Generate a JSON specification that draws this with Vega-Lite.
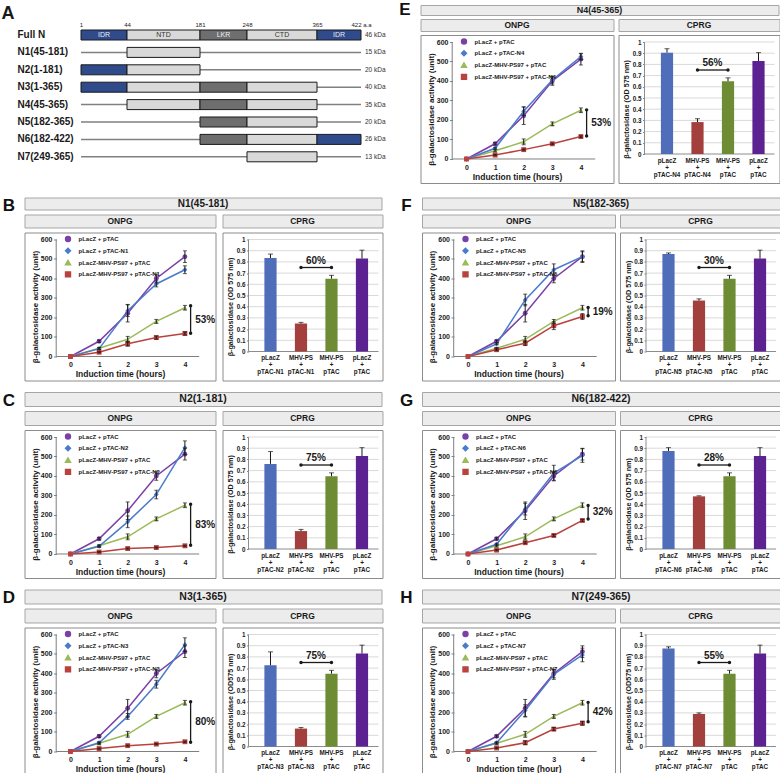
{
"$schema":"https://vega.github.io/schema/vega-lite/v6.json",
"padding":0,
"background":"white",
"config":{"view":{"stroke":null},"font":"Liberation Sans","axis":{"domain":false,"grid":false,"labelFlush":false,"labelOverlap":false,"labelSeparation":-50,"labelBound":false,"labelColor":"#1a1a1a","titleColor":"#1a1a1a","tickColor":"#666666","tickWidth":0.8,"labelFontWeight":"bold","titleFontWeight":"bold"},"legend":{"labelColor":"#1a1a1a"}},
"datasets":{
"rows":[{"r":"Full N","kda":"46 kDa"},{"r":"N1(45-181)","kda":"15 kDa"},{"r":"N2(1-181)","kda":"20 kDa"},{"r":"N3(1-365)","kda":"40 kDa"},{"r":"N4(45-365)","kda":"35 kDa"},{"r":"N5(182-365)","kda":"20 kDa"},{"r":"N6(182-422)","kda":"26 kDa"},{"r":"N7(249-365)","kda":"13 kDa"}],
"seg":[{"r":"Full N","d":"IDR","s":1,"e":44},{"r":"Full N","d":"NTD","s":44,"e":181},{"r":"Full N","d":"LKR","s":181,"e":248},{"r":"Full N","d":"CTD","s":248,"e":365},{"r":"Full N","d":"IDR","s":365,"e":422},
{"r":"N1(45-181)","d":"NTD","s":44,"e":181},
{"r":"N2(1-181)","d":"IDR","s":1,"e":44},{"r":"N2(1-181)","d":"NTD","s":44,"e":181},
{"r":"N3(1-365)","d":"IDR","s":1,"e":44},{"r":"N3(1-365)","d":"NTD","s":44,"e":181},{"r":"N3(1-365)","d":"LKR","s":181,"e":248},{"r":"N3(1-365)","d":"CTD","s":248,"e":365},
{"r":"N4(45-365)","d":"NTD","s":44,"e":181},{"r":"N4(45-365)","d":"LKR","s":181,"e":248},{"r":"N4(45-365)","d":"CTD","s":248,"e":365},
{"r":"N5(182-365)","d":"LKR","s":181,"e":248},{"r":"N5(182-365)","d":"CTD","s":248,"e":365},
{"r":"N6(182-422)","d":"LKR","s":181,"e":248},{"r":"N6(182-422)","d":"CTD","s":248,"e":365},{"r":"N6(182-422)","d":"IDR","s":365,"e":422},
{"r":"N7(249-365)","d":"CTD","s":248,"e":365}],
"L":[
{"p":"ctl","s":"pLacZ + pTAC","t":0,"v":0,"e":0},{"p":"ctl","s":"pLacZ + pTAC","t":1,"v":78,"e":6},{"p":"ctl","s":"pLacZ + pTAC","t":2,"v":222,"e":45},{"p":"ctl","s":"pLacZ + pTAC","t":3,"v":400,"e":22},{"p":"ctl","s":"pLacZ + pTAC","t":4,"v":512,"e":30},
{"p":"ctl","s":"pLacZ-MHV-PS97 + pTAC","t":0,"v":0,"e":0},{"p":"ctl","s":"pLacZ-MHV-PS97 + pTAC","t":1,"v":42,"e":5},{"p":"ctl","s":"pLacZ-MHV-PS97 + pTAC","t":2,"v":88,"e":15},{"p":"ctl","s":"pLacZ-MHV-PS97 + pTAC","t":3,"v":180,"e":10},{"p":"ctl","s":"pLacZ-MHV-PS97 + pTAC","t":4,"v":250,"e":12},
{"p":"N1","s":"pLacZ + pTAC-N1","t":0,"v":0,"e":0},{"p":"N1","s":"pLacZ + pTAC-N1","t":1,"v":40,"e":5},{"p":"N1","s":"pLacZ + pTAC-N1","t":2,"v":235,"e":30},{"p":"N1","s":"pLacZ + pTAC-N1","t":3,"v":372,"e":15},{"p":"N1","s":"pLacZ + pTAC-N1","t":4,"v":445,"e":20},
{"p":"N1","s":"pLacZ-MHV-PS97 + pTAC-N1","t":0,"v":0,"e":0},{"p":"N1","s":"pLacZ-MHV-PS97 + pTAC-N1","t":1,"v":22,"e":3},{"p":"N1","s":"pLacZ-MHV-PS97 + pTAC-N1","t":2,"v":65,"e":12},{"p":"N1","s":"pLacZ-MHV-PS97 + pTAC-N1","t":3,"v":97,"e":8},{"p":"N1","s":"pLacZ-MHV-PS97 + pTAC-N1","t":4,"v":118,"e":8},
{"p":"N2","s":"pLacZ + pTAC-N2","t":0,"v":0,"e":0},{"p":"N2","s":"pLacZ + pTAC-N2","t":1,"v":40,"e":5},{"p":"N2","s":"pLacZ + pTAC-N2","t":2,"v":165,"e":30},{"p":"N2","s":"pLacZ + pTAC-N2","t":3,"v":305,"e":22},{"p":"N2","s":"pLacZ + pTAC-N2","t":4,"v":545,"e":35},
{"p":"N2","s":"pLacZ-MHV-PS97 + pTAC-N2","t":0,"v":0,"e":0},{"p":"N2","s":"pLacZ-MHV-PS97 + pTAC-N2","t":1,"v":10,"e":3},{"p":"N2","s":"pLacZ-MHV-PS97 + pTAC-N2","t":2,"v":28,"e":3},{"p":"N2","s":"pLacZ-MHV-PS97 + pTAC-N2","t":3,"v":33,"e":3},{"p":"N2","s":"pLacZ-MHV-PS97 + pTAC-N2","t":4,"v":42,"e":3},
{"p":"N3","s":"pLacZ + pTAC-N3","t":0,"v":0,"e":0},{"p":"N3","s":"pLacZ + pTAC-N3","t":1,"v":45,"e":5},{"p":"N3","s":"pLacZ + pTAC-N3","t":2,"v":180,"e":15},{"p":"N3","s":"pLacZ + pTAC-N3","t":3,"v":345,"e":20},{"p":"N3","s":"pLacZ + pTAC-N3","t":4,"v":548,"e":35},
{"p":"N3","s":"pLacZ-MHV-PS97 + pTAC-N3","t":0,"v":0,"e":0},{"p":"N3","s":"pLacZ-MHV-PS97 + pTAC-N3","t":1,"v":15,"e":3},{"p":"N3","s":"pLacZ-MHV-PS97 + pTAC-N3","t":2,"v":30,"e":3},{"p":"N3","s":"pLacZ-MHV-PS97 + pTAC-N3","t":3,"v":38,"e":3},{"p":"N3","s":"pLacZ-MHV-PS97 + pTAC-N3","t":4,"v":50,"e":3},
{"p":"N4","s":"pLacZ + pTAC-N4","t":0,"v":0,"e":0},{"p":"N4","s":"pLacZ + pTAC-N4","t":1,"v":55,"e":5},{"p":"N4","s":"pLacZ + pTAC-N4","t":2,"v":245,"e":22},{"p":"N4","s":"pLacZ + pTAC-N4","t":3,"v":405,"e":20},{"p":"N4","s":"pLacZ + pTAC-N4","t":4,"v":525,"e":15},
{"p":"N4","s":"pLacZ-MHV-PS97 + pTAC-N4","t":0,"v":0,"e":0},{"p":"N4","s":"pLacZ-MHV-PS97 + pTAC-N4","t":1,"v":20,"e":3},{"p":"N4","s":"pLacZ-MHV-PS97 + pTAC-N4","t":2,"v":48,"e":3},{"p":"N4","s":"pLacZ-MHV-PS97 + pTAC-N4","t":3,"v":78,"e":4},{"p":"N4","s":"pLacZ-MHV-PS97 + pTAC-N4","t":4,"v":115,"e":4},
{"p":"N5","s":"pLacZ + pTAC-N5","t":0,"v":0,"e":0},{"p":"N5","s":"pLacZ + pTAC-N5","t":1,"v":65,"e":5},{"p":"N5","s":"pLacZ + pTAC-N5","t":2,"v":290,"e":30},{"p":"N5","s":"pLacZ + pTAC-N5","t":3,"v":445,"e":30},{"p":"N5","s":"pLacZ + pTAC-N5","t":4,"v":512,"e":25},
{"p":"N5","s":"pLacZ-MHV-PS97 + pTAC-N5","t":0,"v":0,"e":0},{"p":"N5","s":"pLacZ-MHV-PS97 + pTAC-N5","t":1,"v":35,"e":5},{"p":"N5","s":"pLacZ-MHV-PS97 + pTAC-N5","t":2,"v":68,"e":12},{"p":"N5","s":"pLacZ-MHV-PS97 + pTAC-N5","t":3,"v":158,"e":20},{"p":"N5","s":"pLacZ-MHV-PS97 + pTAC-N5","t":4,"v":205,"e":15},
{"p":"N6","s":"pLacZ + pTAC-N6","t":0,"v":0,"e":0},{"p":"N6","s":"pLacZ + pTAC-N6","t":1,"v":50,"e":5},{"p":"N6","s":"pLacZ + pTAC-N6","t":2,"v":230,"e":30},{"p":"N6","s":"pLacZ + pTAC-N6","t":3,"v":415,"e":40},{"p":"N6","s":"pLacZ + pTAC-N6","t":4,"v":505,"e":35},
{"p":"N6","s":"pLacZ-MHV-PS97 + pTAC-N6","t":0,"v":0,"e":0},{"p":"N6","s":"pLacZ-MHV-PS97 + pTAC-N6","t":1,"v":20,"e":3},{"p":"N6","s":"pLacZ-MHV-PS97 + pTAC-N6","t":2,"v":58,"e":5},{"p":"N6","s":"pLacZ-MHV-PS97 + pTAC-N6","t":3,"v":95,"e":5},{"p":"N6","s":"pLacZ-MHV-PS97 + pTAC-N6","t":4,"v":172,"e":5},
{"p":"N7","s":"pLacZ + pTAC-N7","t":0,"v":0,"e":0},{"p":"N7","s":"pLacZ + pTAC-N7","t":1,"v":45,"e":5},{"p":"N7","s":"pLacZ + pTAC-N7","t":2,"v":210,"e":30},{"p":"N7","s":"pLacZ + pTAC-N7","t":3,"v":395,"e":25},{"p":"N7","s":"pLacZ + pTAC-N7","t":4,"v":495,"e":35},
{"p":"N7","s":"pLacZ-MHV-PS97 + pTAC-N7","t":0,"v":0,"e":0},{"p":"N7","s":"pLacZ-MHV-PS97 + pTAC-N7","t":1,"v":18,"e":3},{"p":"N7","s":"pLacZ-MHV-PS97 + pTAC-N7","t":2,"v":45,"e":10},{"p":"N7","s":"pLacZ-MHV-PS97 + pTAC-N7","t":3,"v":115,"e":8},{"p":"N7","s":"pLacZ-MHV-PS97 + pTAC-N7","t":4,"v":145,"e":10}],
"LB":[{"p":"N1","top":260,"bot":119,"lab":"53%"},{"p":"N2","top":255,"bot":45,"lab":"83%"},{"p":"N3","top":255,"bot":47,"lab":"80%"},{"p":"N4","top":252,"bot":118,"lab":"53%"},{"p":"N5","top":251,"bot":209,"lab":"19%"},{"p":"N6","top":249,"bot":179,"lab":"32%"},{"p":"N7","top":252,"bot":153,"lab":"42%"}],
"BR":[{"p":"ctl","g":"MHV-PS + pTAC","v":0.65,"hi":0.68},{"p":"ctl","g":"pLacZ + pTAC","v":0.83,"hi":0.905},
{"p":"N1","g":"pLacZ + pTAC-N1","v":0.835,"hi":0.87},{"p":"N1","g":"MHV-PS + pTAC-N1","v":0.25,"hi":0.26},
{"p":"N2","g":"pLacZ + pTAC-N2","v":0.76,"hi":0.87},{"p":"N2","g":"MHV-PS + pTAC-N2","v":0.16,"hi":0.175},
{"p":"N3","g":"pLacZ + pTAC-N3","v":0.725,"hi":0.845},{"p":"N3","g":"MHV-PS + pTAC-N3","v":0.16,"hi":0.17},
{"p":"N4","g":"pLacZ + pTAC-N4","v":0.905,"hi":0.94},{"p":"N4","g":"MHV-PS + pTAC-N4","v":0.285,"hi":0.315},
{"p":"N5","g":"pLacZ + pTAC-N5","v":0.87,"hi":0.88},{"p":"N5","g":"MHV-PS + pTAC-N5","v":0.455,"hi":0.47},
{"p":"N6","g":"pLacZ + pTAC-N6","v":0.875,"hi":0.905},{"p":"N6","g":"MHV-PS + pTAC-N6","v":0.47,"hi":0.475},
{"p":"N7","g":"pLacZ + pTAC-N7","v":0.875,"hi":0.89},{"p":"N7","g":"MHV-PS + pTAC-N7","v":0.29,"hi":0.3}],
"BB":[{"p":"N1","g":"MHV-PS + pTAC-N1","y":0.75,"lab":"60%"},{"p":"N1","g":"MHV-PS + pTAC","y":0.75,"lab":""},
{"p":"N2","g":"MHV-PS + pTAC-N2","y":0.75,"lab":"75%"},{"p":"N2","g":"MHV-PS + pTAC","y":0.75,"lab":""},
{"p":"N3","g":"MHV-PS + pTAC-N3","y":0.75,"lab":"75%"},{"p":"N3","g":"MHV-PS + pTAC","y":0.75,"lab":""},
{"p":"N4","g":"MHV-PS + pTAC-N4","y":0.75,"lab":"56%"},{"p":"N4","g":"MHV-PS + pTAC","y":0.75,"lab":""},
{"p":"N5","g":"MHV-PS + pTAC-N5","y":0.75,"lab":"30%"},{"p":"N5","g":"MHV-PS + pTAC","y":0.75,"lab":""},
{"p":"N6","g":"MHV-PS + pTAC-N6","y":0.75,"lab":"28%"},{"p":"N6","g":"MHV-PS + pTAC","y":0.75,"lab":""},
{"p":"N7","g":"MHV-PS + pTAC-N7","y":0.75,"lab":"55%"},{"p":"N7","g":"MHV-PS + pTAC","y":0.75,"lab":""}],
"GR":[{"g":0},{"g":0.1},{"g":0.2},{"g":0.3},{"g":0.4},{"g":0.5},{"g":0.6},{"g":0.7},{"g":0.8},{"g":0.9},{"g":1}]
},
"spacing":9.5,
"resolve":{"scale":{"color":"independent","shape":"independent"},"legend":{"color":"independent","shape":"independent"}},
"vconcat":[
{"hconcat":[
{"width":390,"height":186,"view":{"stroke":null},
"layer":[
{"data":{"name":"rows"},"transform":[{"filter":"datum.r != 'Full N'"}],"mark":{"type":"rule","color":"#808080","strokeWidth":1.5},
"encoding":{"x":{"datum":1,"type":"quantitative","scale":{"domain":[1,44,181,248,365,422],"range":[81,127,200,247,317,361],"nice":false,"zero":false},"axis":{"orient":"top","values":[1,44,181,248,365,422],"offset":-27,"ticks":false,"tickSize":0,"labelPadding":1,"labelFontSize":6,"labelFontWeight":"normal","labelExpr":"datum.value == 422 ? '422 a.a' : datum.label","title":"A","titleX":1,"titleY":-10,"titleAlign":"left","titleBaseline":"alphabetic","titleFontSize":18,"titleAngle":0}},"x2":{"datum":422},
"y":{"field":"r","type":"nominal","scale":{"type":"band","domain":["Full N","N1(45-181)","N2(1-181)","N3(1-365)","N4(45-365)","N5(182-365)","N6(182-422)","N7(249-365)"],"range":[29,160.8],"paddingInner":0.425,"paddingOuter":0},"axis":{"orient":"left","offset":-17,"ticks":false,"tickSize":0,"labelAlign":"left","labelPadding":0,"labelFontSize":10,"labelLimit":200,"title":null}}}},
{"data":{"name":"seg"},"mark":{"type":"bar","stroke":"#1a1a1a","strokeWidth":1},
"encoding":{"x":{"field":"s","type":"quantitative","scale":{"domain":[1,44,181,248,365,422],"range":[81,127,200,247,317,361],"nice":false,"zero":false}},"x2":{"field":"e"},
"y":{"field":"r","type":"nominal","scale":{"type":"band","domain":["Full N","N1(45-181)","N2(1-181)","N3(1-365)","N4(45-365)","N5(182-365)","N6(182-422)","N7(249-365)"],"range":[29,160.8],"paddingInner":0.425,"paddingOuter":0}},
"color":{"field":"d","type":"nominal","scale":{"domain":["IDR","NTD","LKR","CTD"],"range":["#2f4b8c","#d9d9d9","#6e6e6e","#d9d9d9"]},"legend":null}}},
{"data":{"name":"seg"},"transform":[{"filter":"datum.r == 'Full N' && (datum.d == 'NTD' || datum.d == 'CTD')"},{"calculate":"(datum.s + datum.e) / 2","as":"m"}],"mark":{"type":"text","fontSize":7,"baseline":"middle","color":"#333333"},
"encoding":{"x":{"field":"m","type":"quantitative","scale":{"domain":[1,44,181,248,365,422],"range":[81,127,200,247,317,361],"nice":false,"zero":false}},
"y":{"field":"r","type":"nominal","scale":{"type":"band","domain":["Full N","N1(45-181)","N2(1-181)","N3(1-365)","N4(45-365)","N5(182-365)","N6(182-422)","N7(249-365)"],"range":[29,160.8],"paddingInner":0.425,"paddingOuter":0}},
"text":{"field":"d"}}},
{"data":{"name":"seg"},"transform":[{"filter":"datum.r == 'Full N' && (datum.d == 'IDR' || datum.d == 'LKR')"},{"calculate":"(datum.s + datum.e) / 2","as":"m"}],"mark":{"type":"text","fontSize":7,"baseline":"middle","color":"#e8ecf5"},
"encoding":{"x":{"field":"m","type":"quantitative","scale":{"domain":[1,44,181,248,365,422],"range":[81,127,200,247,317,361],"nice":false,"zero":false}},
"y":{"field":"r","type":"nominal","scale":{"type":"band","domain":["Full N","N1(45-181)","N2(1-181)","N3(1-365)","N4(45-365)","N5(182-365)","N6(182-422)","N7(249-365)"],"range":[29,160.8],"paddingInner":0.425,"paddingOuter":0}},
"text":{"field":"d"}}},
{"data":{"name":"rows"},"mark":{"type":"text","align":"left","baseline":"middle","dx":4,"fontSize":6.5,"color":"#333333"},
"encoding":{"x":{"datum":422,"type":"quantitative","scale":{"domain":[1,44,181,248,365,422],"range":[81,127,200,247,317,361],"nice":false,"zero":false}},
"y":{"field":"r","type":"nominal","scale":{"type":"band","domain":["Full N","N1(45-181)","N2(1-181)","N3(1-365)","N4(45-365)","N5(182-365)","N6(182-422)","N7(249-365)"],"range":[29,160.8],"paddingInner":0.425,"paddingOuter":0}},
"text":{"field":"kda"}}}
]},
{"hconcat":[
{"width":18,"height":17,"data":{"values":[{"t":"E"}]},"mark":{"type":"text","fontSize":17,"fontWeight":"bold","color":"#111111","baseline":"middle"},"encoding":{"text":{"field":"t"}}},
{"vconcat":[
{"width":358,"height":1,"data":{"values":[]},"mark":"point"},
{"width":358,"height":10,"view":{"fill":"#ececec","stroke":"#a6a6a6"},"data":{"values":[{"t":"N4(45-365)"}]},"mark":{"type":"text","fontSize":9,"fontWeight":"bold","color":"#1a1a1a","baseline":"middle"},"encoding":{"text":{"field":"t"}}},
{"hconcat":[
{"width":193,"height":12,"view":{"fill":"#ececec","stroke":"#a6a6a6"},"data":{"values":[{"t":"ONPG"}]},"mark":{"type":"text","fontSize":8.5,"fontWeight":"bold","color":"#1a1a1a","baseline":"middle"},"encoding":{"text":{"field":"t"}}},
{"width":161,"height":12,"view":{"fill":"#ececec","stroke":"#a6a6a6"},"data":{"values":[{"t":"CPRG"}]},"mark":{"type":"text","fontSize":8.5,"fontWeight":"bold","color":"#1a1a1a","baseline":"middle"},"encoding":{"text":{"field":"t"}}}
],"spacing":3},
{"hconcat":[
{"width":193,"height":148,"view":{"stroke":"#8c8c8c","fill":"white"},"resolve":{"axis":{"x":"independent","y":"independent"}},"layer":[
{"data":{"name":"LB"},"transform":[{"filter":"datum.p == 'N4'"}],"resolve":{"axis":{"x":"independent","y":"independent"}},"layer":[
{"mark":{"type":"rule","color":"#7f7f7f"},"encoding":{"x":{"datum":-0.5,"type":"quantitative","scale":{"domain":[-1.608,5.14],"nice":false,"zero":false},"axis":null},"y":{"datum":0,"type":"quantitative","scale":{"domain":[-123.1,635.9],"nice":false,"zero":false},"axis":null},"y2":{"datum":600}}},
{"mark":{"type":"rule","color":"#7f7f7f"},"encoding":{"x":{"datum":-0.5,"type":"quantitative","scale":{"domain":[-1.608,5.14],"nice":false,"zero":false},"axis":null},"x2":{"datum":4.5},"y":{"datum":0,"type":"quantitative","scale":{"domain":[-123.1,635.9],"nice":false,"zero":false},"axis":null}}}]},
{"data":{"name":"L"},"transform":[{"filter":"datum.p == 'ctl' || datum.p == 'N4'"},{"calculate":"datum.v - datum.e","as":"lo"},{"calculate":"datum.v + datum.e","as":"hi"}],"resolve":{"axis":{"x":"independent","y":"independent"}},"layer":[
{"mark":{"type":"line","strokeWidth":1.5},"encoding":{"x":{"field":"t","type":"quantitative","scale":{"domain":[-1.608,5.14],"nice":false,"zero":false},"axis":{"values":[0,1,2,3,4],"offset":-24,"ticks":false,"tickSize":0,"labelPadding":4,"labelFontSize":7,"labelOverlap":false,"title":"Induction time (hours)","titleFontSize":8.5,"titlePadding":2}},"y":{"field":"v","type":"quantitative","scale":{"domain":[-123.1,635.9],"nice":false,"zero":false},"axis":{"values":[0,100,200,300,400,500,600],"offset":-32,"tickSize":3,"labelPadding":1.5,"labelFontSize":7,"labelOverlap":false,"labelSeparation":-50,"title":"β-galactosidase activity (unit)","titleFontSize":8,"titlePadding":1}},"color":{"field":"s","type":"nominal","scale":{"domain":["pLacZ + pTAC","pLacZ + pTAC-N4","pLacZ-MHV-PS97 + pTAC","pLacZ-MHV-PS97 + pTAC-N4"],"range":["#7b40a8","#4a7bcc","#9bbb59","#b9423f"]}}}},
{"mark":{"type":"point","filled":true,"size":24,"opacity":1},"encoding":{"x":{"field":"t","type":"quantitative","scale":{"domain":[-1.608,5.14],"nice":false,"zero":false},"axis":null},"y":{"field":"v","type":"quantitative","scale":{"domain":[-123.1,635.9],"nice":false,"zero":false},"axis":null},"color":{"field":"s","type":"nominal","scale":{"domain":["pLacZ + pTAC","pLacZ + pTAC-N4","pLacZ-MHV-PS97 + pTAC","pLacZ-MHV-PS97 + pTAC-N4"],"range":["#7b40a8","#4a7bcc","#9bbb59","#b9423f"]},"legend":{"orient":"none","legendX":40,"legendY":3,"title":null,"padding":0,"rowPadding":0.8,"labelFontSize":6,"labelFontWeight":"bold","labelLimit":250,"labelOffset":7,"symbolSize":24}},"shape":{"field":"s","type":"nominal","scale":{"domain":["pLacZ + pTAC","pLacZ + pTAC-N4","pLacZ-MHV-PS97 + pTAC","pLacZ-MHV-PS97 + pTAC-N4"],"range":["circle","diamond","triangle-up","square"]},"legend":{"orient":"none","legendX":40,"legendY":3,"title":null,"padding":0,"rowPadding":0.8,"labelFontSize":6,"labelFontWeight":"bold","labelLimit":250,"labelOffset":7,"symbolSize":24}}}},
{"transform":[{"filter":"datum.e > 0"}],"mark":{"type":"rule","color":"#1a1a1a","strokeWidth":1},"encoding":{"x":{"field":"t","type":"quantitative","scale":{"domain":[-1.608,5.14],"nice":false,"zero":false},"axis":null},"y":{"field":"lo","type":"quantitative","scale":{"domain":[-123.1,635.9],"nice":false,"zero":false},"axis":null},"y2":{"field":"hi"}}},
{"transform":[{"filter":"datum.e > 0"}],"mark":{"type":"tick","color":"#1a1a1a","thickness":1,"size":4,"orient":"horizontal"},"encoding":{"x":{"field":"t","type":"quantitative","scale":{"domain":[-1.608,5.14],"nice":false,"zero":false},"axis":null},"y":{"field":"hi","type":"quantitative","scale":{"domain":[-123.1,635.9],"nice":false,"zero":false},"axis":null}}},
{"transform":[{"filter":"datum.e > 0"}],"mark":{"type":"tick","color":"#1a1a1a","thickness":1,"size":4,"orient":"horizontal"},"encoding":{"x":{"field":"t","type":"quantitative","scale":{"domain":[-1.608,5.14],"nice":false,"zero":false},"axis":null},"y":{"field":"lo","type":"quantitative","scale":{"domain":[-123.1,635.9],"nice":false,"zero":false},"axis":null}}}]},
{"data":{"name":"LB"},"transform":[{"filter":"datum.p == 'N4'"},{"calculate":"(datum.top + datum.bot) / 2","as":"mid"}],"resolve":{"axis":{"x":"independent","y":"independent"}},"layer":[
{"mark":{"type":"rule","color":"#1a1a1a","strokeWidth":1.3},"encoding":{"x":{"datum":4.2,"type":"quantitative","scale":{"domain":[-1.608,5.14],"nice":false,"zero":false},"axis":null},"y":{"field":"top","type":"quantitative","scale":{"domain":[-123.1,635.9],"nice":false,"zero":false},"axis":null},"y2":{"field":"bot"}}},
{"mark":{"type":"point","filled":true,"size":12,"opacity":1,"color":"#1a1a1a"},"encoding":{"x":{"datum":4.2,"type":"quantitative","scale":{"domain":[-1.608,5.14],"nice":false,"zero":false},"axis":null},"y":{"field":"top","type":"quantitative","scale":{"domain":[-123.1,635.9],"nice":false,"zero":false},"axis":null}}},
{"mark":{"type":"point","filled":true,"size":12,"opacity":1,"color":"#1a1a1a"},"encoding":{"x":{"datum":4.2,"type":"quantitative","scale":{"domain":[-1.608,5.14],"nice":false,"zero":false},"axis":null},"y":{"field":"bot","type":"quantitative","scale":{"domain":[-123.1,635.9],"nice":false,"zero":false},"axis":null}}},
{"mark":{"type":"text","align":"left","baseline":"middle","fontSize":10,"fontWeight":"bold","color":"#1a1a1a"},"encoding":{"x":{"datum":4.36,"type":"quantitative","scale":{"domain":[-1.608,5.14],"nice":false,"zero":false},"axis":null},"y":{"field":"mid","type":"quantitative","scale":{"domain":[-123.1,635.9],"nice":false,"zero":false},"axis":null},"text":{"field":"lab"}}}]}
]},
{"width":161,"height":148,"view":{"stroke":"#8c8c8c","fill":"white"},"resolve":{"scale":{"x":"independent"},"axis":{"x":"independent","y":"independent"}},"layer":[
{"data":{"name":"GR"},"resolve":{"axis":{"x":"independent","y":"independent"}},"layer":[
{"transform":[{"filter":"datum.g > 0"}],"mark":{"type":"rule","color":"#d9d9d9"},"encoding":{"x":{"datum":0,"type":"quantitative","scale":{"domain":[-0.2,1.0385],"nice":false,"zero":false},"axis":null},"x2":{"datum":1},"y":{"field":"g","type":"quantitative","scale":{"domain":[-0.2589,1.0625],"nice":false,"zero":false},"axis":null}}},
{"transform":[{"filter":"datum.g == 0"}],"mark":{"type":"rule","color":"#8c8c8c"},"encoding":{"x":{"datum":0,"type":"quantitative","scale":{"domain":[-0.2,1.0385],"nice":false,"zero":false},"axis":null},"x2":{"datum":1},"y":{"field":"g","type":"quantitative","scale":{"domain":[-0.2589,1.0625],"nice":false,"zero":false},"axis":null}}},
{"transform":[{"filter":"datum.g == 1"}],"mark":{"type":"rule","color":"#8c8c8c"},"encoding":{"x":{"datum":0,"type":"quantitative","scale":{"domain":[-0.2,1.0385],"nice":false,"zero":false},"axis":null},"y":{"datum":0,"type":"quantitative","scale":{"domain":[-0.2589,1.0625],"nice":false,"zero":false},"axis":null},"y2":{"datum":1}}}]},
{"resolve":{"axis":{"x":"independent","y":"independent"}},"layer":[
{"data":{"name":"BR"},"transform":[{"filter":"datum.p == 'ctl' || datum.p == 'N4'"}],"resolve":{"axis":{"x":"independent","y":"independent"}},"layer":[
{"mark":{"type":"bar"},"encoding":{"x":{"field":"g","type":"nominal","scale":{"domain":["pLacZ + pTAC-N4","MHV-PS + pTAC-N4","MHV-PS + pTAC","pLacZ + pTAC"],"paddingInner":0.6,"paddingOuter":0.939,"align":0.74},"axis":{"offset":-29,"ticks":false,"tickSize":0,"labelAngle":0,"labelOverlap":false,"labelExpr":"split(datum.label, ' ')","labelFontSize":6.3,"labelLineHeight":7,"labelPadding":3,"labelBaseline":"top","title":null}},"y":{"field":"v","type":"quantitative","scale":{"domain":[-0.2589,1.0625],"nice":false,"zero":false},"axis":{"values":[0,0.1,0.2,0.3,0.4,0.5,0.6,0.7,0.8,0.9,1],"format":"~g","offset":-26,"tickSize":2,"labelPadding":1.5,"labelFontSize":6.3,"labelOverlap":false,"labelSeparation":-50,"title":"β-galactosidase (OD 575 nm)","titleFontSize":7.2,"titlePadding":1.5}},"y2":{"datum":0},"color":{"field":"g","type":"nominal","scale":{"domain":["pLacZ + pTAC-N4","MHV-PS + pTAC-N4","MHV-PS + pTAC","pLacZ + pTAC"],"range":["#4f6db8","#a3403d","#6e8c33","#5c2291"]},"legend":null}}},
{"mark":{"type":"rule","color":"#1a1a1a"},"encoding":{"x":{"field":"g","type":"nominal","scale":{"domain":["pLacZ + pTAC-N4","MHV-PS + pTAC-N4","MHV-PS + pTAC","pLacZ + pTAC"],"paddingInner":0.6,"paddingOuter":0.939,"align":0.74},"axis":null},"y":{"field":"v","type":"quantitative","scale":{"domain":[-0.2589,1.0625],"nice":false,"zero":false},"axis":null},"y2":{"field":"hi"}}},
{"mark":{"type":"tick","color":"#1a1a1a","thickness":1,"size":5,"orient":"horizontal"},"encoding":{"x":{"field":"g","type":"nominal","scale":{"domain":["pLacZ + pTAC-N4","MHV-PS + pTAC-N4","MHV-PS + pTAC","pLacZ + pTAC"],"paddingInner":0.6,"paddingOuter":0.939,"align":0.74},"axis":null},"y":{"field":"hi","type":"quantitative","scale":{"domain":[-0.2589,1.0625],"nice":false,"zero":false},"axis":null}}}]},
{"data":{"name":"BB"},"transform":[{"filter":"datum.p == 'N4'"}],"resolve":{"axis":{"x":"independent","y":"independent"}},"layer":[
{"mark":{"type":"line","color":"#1a1a1a","strokeWidth":1.3},"encoding":{"x":{"field":"g","type":"nominal","scale":{"domain":["pLacZ + pTAC-N4","MHV-PS + pTAC-N4","MHV-PS + pTAC","pLacZ + pTAC"],"paddingInner":0.6,"paddingOuter":0.939,"align":0.74},"axis":null},"y":{"field":"y","type":"quantitative","scale":{"domain":[-0.2589,1.0625],"nice":false,"zero":false},"axis":null}}},
{"mark":{"type":"point","filled":true,"size":12,"opacity":1,"color":"#1a1a1a"},"encoding":{"x":{"field":"g","type":"nominal","scale":{"domain":["pLacZ + pTAC-N4","MHV-PS + pTAC-N4","MHV-PS + pTAC","pLacZ + pTAC"],"paddingInner":0.6,"paddingOuter":0.939,"align":0.74},"axis":null},"y":{"field":"y","type":"quantitative","scale":{"domain":[-0.2589,1.0625],"nice":false,"zero":false},"axis":null}}},
{"transform":[{"filter":"datum.lab != ''"}],"mark":{"type":"text","fontSize":10,"fontWeight":"bold","dx":15,"dy":-7,"baseline":"middle","color":"#1a1a1a"},"encoding":{"x":{"field":"g","type":"nominal","scale":{"domain":["pLacZ + pTAC-N4","MHV-PS + pTAC-N4","MHV-PS + pTAC","pLacZ + pTAC"],"paddingInner":0.6,"paddingOuter":0.939,"align":0.74},"axis":null},"y":{"field":"y","type":"quantitative","scale":{"domain":[-0.2589,1.0625],"nice":false,"zero":false},"axis":null},"text":{"field":"lab"}}}]}
]}
]}
],"spacing":3,"resolve":{"scale":{"color":"independent","shape":"independent"},"legend":{"color":"independent","shape":"independent"}}}
],"spacing":2,"resolve":{"scale":{"color":"independent","shape":"independent"},"legend":{"color":"independent","shape":"independent"}}}
],"spacing":5.5,"resolve":{"scale":{"color":"independent","shape":"independent"},"legend":{"color":"independent","shape":"independent"}}}
],"spacing":6,"resolve":{"scale":{"color":"independent","shape":"independent"},"legend":{"color":"independent","shape":"independent"}}},
{"hconcat":[
{"hconcat":[
{"width":18,"height":17,"data":{"values":[{"t":"B"}]},"mark":{"type":"text","fontSize":17,"fontWeight":"bold","color":"#111111","baseline":"middle"},"encoding":{"text":{"field":"t"}}},
{"vconcat":[
{"width":357,"height":12,"view":{"fill":"#ececec","stroke":"#a6a6a6"},"data":{"values":[{"t":"N1(45-181)"}]},"mark":{"type":"text","fontSize":10,"fontWeight":"bold","color":"#1a1a1a","baseline":"middle"},"encoding":{"text":{"field":"t"}}},
{"hconcat":[
{"width":191,"height":13,"view":{"fill":"#ececec","stroke":"#a6a6a6"},"data":{"values":[{"t":"ONPG"}]},"mark":{"type":"text","fontSize":8.5,"fontWeight":"bold","color":"#1a1a1a","baseline":"middle"},"encoding":{"text":{"field":"t"}}},
{"width":160,"height":13,"view":{"fill":"#ececec","stroke":"#a6a6a6"},"data":{"values":[{"t":"CPRG"}]},"mark":{"type":"text","fontSize":8.5,"fontWeight":"bold","color":"#1a1a1a","baseline":"middle"},"encoding":{"text":{"field":"t"}}}
],"spacing":5},
{"hconcat":[
{"width":191,"height":148,"view":{"stroke":"#8c8c8c","fill":"white"},"resolve":{"axis":{"x":"independent","y":"independent"}},"layer":[
{"data":{"name":"LB"},"transform":[{"filter":"datum.p == 'N1'"}],"resolve":{"axis":{"x":"independent","y":"independent"}},"layer":[
{"mark":{"type":"rule","color":"#7f7f7f"},"encoding":{"x":{"datum":-0.5,"type":"quantitative","scale":{"domain":[-1.608,5.07],"nice":false,"zero":false},"axis":null},"y":{"datum":0,"type":"quantitative","scale":{"domain":[-123.1,635.9],"nice":false,"zero":false},"axis":null},"y2":{"datum":600}}},
{"mark":{"type":"rule","color":"#7f7f7f"},"encoding":{"x":{"datum":-0.5,"type":"quantitative","scale":{"domain":[-1.608,5.07],"nice":false,"zero":false},"axis":null},"x2":{"datum":4.5},"y":{"datum":0,"type":"quantitative","scale":{"domain":[-123.1,635.9],"nice":false,"zero":false},"axis":null}}}]},
{"data":{"name":"L"},"transform":[{"filter":"datum.p == 'ctl' || datum.p == 'N1'"},{"calculate":"datum.v - datum.e","as":"lo"},{"calculate":"datum.v + datum.e","as":"hi"}],"resolve":{"axis":{"x":"independent","y":"independent"}},"layer":[
{"mark":{"type":"line","strokeWidth":1.5},"encoding":{"x":{"field":"t","type":"quantitative","scale":{"domain":[-1.608,5.07],"nice":false,"zero":false},"axis":{"values":[0,1,2,3,4],"offset":-24,"ticks":false,"tickSize":0,"labelPadding":4,"labelFontSize":7,"labelOverlap":false,"title":"Induction time (hours)","titleFontSize":8.5,"titlePadding":2}},"y":{"field":"v","type":"quantitative","scale":{"domain":[-123.1,635.9],"nice":false,"zero":false},"axis":{"values":[0,100,200,300,400,500,600],"offset":-32,"tickSize":3,"labelPadding":1.5,"labelFontSize":7,"labelOverlap":false,"labelSeparation":-50,"title":"β-galactosidase activity (unit)","titleFontSize":8,"titlePadding":1}},"color":{"field":"s","type":"nominal","scale":{"domain":["pLacZ + pTAC","pLacZ + pTAC-N1","pLacZ-MHV-PS97 + pTAC","pLacZ-MHV-PS97 + pTAC-N1"],"range":["#7b40a8","#4a7bcc","#9bbb59","#b9423f"]}}}},
{"mark":{"type":"point","filled":true,"size":24,"opacity":1},"encoding":{"x":{"field":"t","type":"quantitative","scale":{"domain":[-1.608,5.07],"nice":false,"zero":false},"axis":null},"y":{"field":"v","type":"quantitative","scale":{"domain":[-123.1,635.9],"nice":false,"zero":false},"axis":null},"color":{"field":"s","type":"nominal","scale":{"domain":["pLacZ + pTAC","pLacZ + pTAC-N1","pLacZ-MHV-PS97 + pTAC","pLacZ-MHV-PS97 + pTAC-N1"],"range":["#7b40a8","#4a7bcc","#9bbb59","#b9423f"]},"legend":{"orient":"none","legendX":40,"legendY":3,"title":null,"padding":0,"rowPadding":0.8,"labelFontSize":6,"labelFontWeight":"bold","labelLimit":250,"labelOffset":7,"symbolSize":24}},"shape":{"field":"s","type":"nominal","scale":{"domain":["pLacZ + pTAC","pLacZ + pTAC-N1","pLacZ-MHV-PS97 + pTAC","pLacZ-MHV-PS97 + pTAC-N1"],"range":["circle","diamond","triangle-up","square"]},"legend":{"orient":"none","legendX":40,"legendY":3,"title":null,"padding":0,"rowPadding":0.8,"labelFontSize":6,"labelFontWeight":"bold","labelLimit":250,"labelOffset":7,"symbolSize":24}}}},
{"transform":[{"filter":"datum.e > 0"}],"mark":{"type":"rule","color":"#1a1a1a","strokeWidth":1},"encoding":{"x":{"field":"t","type":"quantitative","scale":{"domain":[-1.608,5.07],"nice":false,"zero":false},"axis":null},"y":{"field":"lo","type":"quantitative","scale":{"domain":[-123.1,635.9],"nice":false,"zero":false},"axis":null},"y2":{"field":"hi"}}},
{"transform":[{"filter":"datum.e > 0"}],"mark":{"type":"tick","color":"#1a1a1a","thickness":1,"size":4,"orient":"horizontal"},"encoding":{"x":{"field":"t","type":"quantitative","scale":{"domain":[-1.608,5.07],"nice":false,"zero":false},"axis":null},"y":{"field":"hi","type":"quantitative","scale":{"domain":[-123.1,635.9],"nice":false,"zero":false},"axis":null}}},
{"transform":[{"filter":"datum.e > 0"}],"mark":{"type":"tick","color":"#1a1a1a","thickness":1,"size":4,"orient":"horizontal"},"encoding":{"x":{"field":"t","type":"quantitative","scale":{"domain":[-1.608,5.07],"nice":false,"zero":false},"axis":null},"y":{"field":"lo","type":"quantitative","scale":{"domain":[-123.1,635.9],"nice":false,"zero":false},"axis":null}}}]},
{"data":{"name":"LB"},"transform":[{"filter":"datum.p == 'N1'"},{"calculate":"(datum.top + datum.bot) / 2","as":"mid"}],"resolve":{"axis":{"x":"independent","y":"independent"}},"layer":[
{"mark":{"type":"rule","color":"#1a1a1a","strokeWidth":1.3},"encoding":{"x":{"datum":4.2,"type":"quantitative","scale":{"domain":[-1.608,5.07],"nice":false,"zero":false},"axis":null},"y":{"field":"top","type":"quantitative","scale":{"domain":[-123.1,635.9],"nice":false,"zero":false},"axis":null},"y2":{"field":"bot"}}},
{"mark":{"type":"point","filled":true,"size":12,"opacity":1,"color":"#1a1a1a"},"encoding":{"x":{"datum":4.2,"type":"quantitative","scale":{"domain":[-1.608,5.07],"nice":false,"zero":false},"axis":null},"y":{"field":"top","type":"quantitative","scale":{"domain":[-123.1,635.9],"nice":false,"zero":false},"axis":null}}},
{"mark":{"type":"point","filled":true,"size":12,"opacity":1,"color":"#1a1a1a"},"encoding":{"x":{"datum":4.2,"type":"quantitative","scale":{"domain":[-1.608,5.07],"nice":false,"zero":false},"axis":null},"y":{"field":"bot","type":"quantitative","scale":{"domain":[-123.1,635.9],"nice":false,"zero":false},"axis":null}}},
{"mark":{"type":"text","align":"left","baseline":"middle","fontSize":10,"fontWeight":"bold","color":"#1a1a1a"},"encoding":{"x":{"datum":4.36,"type":"quantitative","scale":{"domain":[-1.608,5.07],"nice":false,"zero":false},"axis":null},"y":{"field":"mid","type":"quantitative","scale":{"domain":[-123.1,635.9],"nice":false,"zero":false},"axis":null},"text":{"field":"lab"}}}]}
]},
{"width":160,"height":148,"view":{"stroke":"#8c8c8c","fill":"white"},"resolve":{"scale":{"x":"independent"},"axis":{"x":"independent","y":"independent"}},"layer":[
{"data":{"name":"GR"},"resolve":{"axis":{"x":"independent","y":"independent"}},"layer":[
{"transform":[{"filter":"datum.g > 0"}],"mark":{"type":"rule","color":"#d9d9d9"},"encoding":{"x":{"datum":0,"type":"quantitative","scale":{"domain":[-0.2,1.0308],"nice":false,"zero":false},"axis":null},"x2":{"datum":1},"y":{"field":"g","type":"quantitative","scale":{"domain":[-0.2589,1.0625],"nice":false,"zero":false},"axis":null}}},
{"transform":[{"filter":"datum.g == 0"}],"mark":{"type":"rule","color":"#8c8c8c"},"encoding":{"x":{"datum":0,"type":"quantitative","scale":{"domain":[-0.2,1.0308],"nice":false,"zero":false},"axis":null},"x2":{"datum":1},"y":{"field":"g","type":"quantitative","scale":{"domain":[-0.2589,1.0625],"nice":false,"zero":false},"axis":null}}},
{"transform":[{"filter":"datum.g == 1"}],"mark":{"type":"rule","color":"#8c8c8c"},"encoding":{"x":{"datum":0,"type":"quantitative","scale":{"domain":[-0.2,1.0308],"nice":false,"zero":false},"axis":null},"y":{"datum":0,"type":"quantitative","scale":{"domain":[-0.2589,1.0625],"nice":false,"zero":false},"axis":null},"y2":{"datum":1}}}]},
{"resolve":{"axis":{"x":"independent","y":"independent"}},"layer":[
{"data":{"name":"BR"},"transform":[{"filter":"datum.p == 'ctl' || datum.p == 'N1'"}],"resolve":{"axis":{"x":"independent","y":"independent"}},"layer":[
{"mark":{"type":"bar"},"encoding":{"x":{"field":"g","type":"nominal","scale":{"domain":["pLacZ + pTAC-N1","MHV-PS + pTAC-N1","MHV-PS + pTAC","pLacZ + pTAC"],"paddingInner":0.6,"paddingOuter":0.923,"align":0.744},"axis":{"offset":-29,"ticks":false,"tickSize":0,"labelAngle":0,"labelOverlap":false,"labelExpr":"split(datum.label, ' ')","labelFontSize":6.3,"labelLineHeight":7,"labelPadding":3,"labelBaseline":"top","title":null}},"y":{"field":"v","type":"quantitative","scale":{"domain":[-0.2589,1.0625],"nice":false,"zero":false},"axis":{"values":[0,0.1,0.2,0.3,0.4,0.5,0.6,0.7,0.8,0.9,1],"format":"~g","offset":-26,"tickSize":2,"labelPadding":1.5,"labelFontSize":6.3,"labelOverlap":false,"labelSeparation":-50,"title":"β-galactosidase (OD 575 nm)","titleFontSize":7.2,"titlePadding":1.5}},"y2":{"datum":0},"color":{"field":"g","type":"nominal","scale":{"domain":["pLacZ + pTAC-N1","MHV-PS + pTAC-N1","MHV-PS + pTAC","pLacZ + pTAC"],"range":["#4f6db8","#a3403d","#6e8c33","#5c2291"]},"legend":null}}},
{"mark":{"type":"rule","color":"#1a1a1a"},"encoding":{"x":{"field":"g","type":"nominal","scale":{"domain":["pLacZ + pTAC-N1","MHV-PS + pTAC-N1","MHV-PS + pTAC","pLacZ + pTAC"],"paddingInner":0.6,"paddingOuter":0.923,"align":0.744},"axis":null},"y":{"field":"v","type":"quantitative","scale":{"domain":[-0.2589,1.0625],"nice":false,"zero":false},"axis":null},"y2":{"field":"hi"}}},
{"mark":{"type":"tick","color":"#1a1a1a","thickness":1,"size":5,"orient":"horizontal"},"encoding":{"x":{"field":"g","type":"nominal","scale":{"domain":["pLacZ + pTAC-N1","MHV-PS + pTAC-N1","MHV-PS + pTAC","pLacZ + pTAC"],"paddingInner":0.6,"paddingOuter":0.923,"align":0.744},"axis":null},"y":{"field":"hi","type":"quantitative","scale":{"domain":[-0.2589,1.0625],"nice":false,"zero":false},"axis":null}}}]},
{"data":{"name":"BB"},"transform":[{"filter":"datum.p == 'N1'"}],"resolve":{"axis":{"x":"independent","y":"independent"}},"layer":[
{"mark":{"type":"line","color":"#1a1a1a","strokeWidth":1.3},"encoding":{"x":{"field":"g","type":"nominal","scale":{"domain":["pLacZ + pTAC-N1","MHV-PS + pTAC-N1","MHV-PS + pTAC","pLacZ + pTAC"],"paddingInner":0.6,"paddingOuter":0.923,"align":0.744},"axis":null},"y":{"field":"y","type":"quantitative","scale":{"domain":[-0.2589,1.0625],"nice":false,"zero":false},"axis":null}}},
{"mark":{"type":"point","filled":true,"size":12,"opacity":1,"color":"#1a1a1a"},"encoding":{"x":{"field":"g","type":"nominal","scale":{"domain":["pLacZ + pTAC-N1","MHV-PS + pTAC-N1","MHV-PS + pTAC","pLacZ + pTAC"],"paddingInner":0.6,"paddingOuter":0.923,"align":0.744},"axis":null},"y":{"field":"y","type":"quantitative","scale":{"domain":[-0.2589,1.0625],"nice":false,"zero":false},"axis":null}}},
{"transform":[{"filter":"datum.lab != ''"}],"mark":{"type":"text","fontSize":10,"fontWeight":"bold","dx":15,"dy":-7,"baseline":"middle","color":"#1a1a1a"},"encoding":{"x":{"field":"g","type":"nominal","scale":{"domain":["pLacZ + pTAC-N1","MHV-PS + pTAC-N1","MHV-PS + pTAC","pLacZ + pTAC"],"paddingInner":0.6,"paddingOuter":0.923,"align":0.744},"axis":null},"y":{"field":"y","type":"quantitative","scale":{"domain":[-0.2589,1.0625],"nice":false,"zero":false},"axis":null},"text":{"field":"lab"}}}]}
]}
]}
],"spacing":5,"resolve":{"scale":{"color":"independent","shape":"independent"},"legend":{"color":"independent","shape":"independent"}}}
],"spacing":3,"resolve":{"scale":{"color":"independent","shape":"independent"},"legend":{"color":"independent","shape":"independent"}}}
],"spacing":5.5,"resolve":{"scale":{"color":"independent","shape":"independent"},"legend":{"color":"independent","shape":"independent"}}},
{"hconcat":[
{"width":18,"height":17,"data":{"values":[{"t":"F"}]},"mark":{"type":"text","fontSize":17,"fontWeight":"bold","color":"#111111","baseline":"middle"},"encoding":{"text":{"field":"t"}}},
{"vconcat":[
{"width":358,"height":12,"view":{"fill":"#ececec","stroke":"#a6a6a6"},"data":{"values":[{"t":"N5(182-365)"}]},"mark":{"type":"text","fontSize":10,"fontWeight":"bold","color":"#1a1a1a","baseline":"middle"},"encoding":{"text":{"field":"t"}}},
{"hconcat":[
{"width":193,"height":13,"view":{"fill":"#ececec","stroke":"#a6a6a6"},"data":{"values":[{"t":"ONPG"}]},"mark":{"type":"text","fontSize":8.5,"fontWeight":"bold","color":"#1a1a1a","baseline":"middle"},"encoding":{"text":{"field":"t"}}},
{"width":161,"height":13,"view":{"fill":"#ececec","stroke":"#a6a6a6"},"data":{"values":[{"t":"CPRG"}]},"mark":{"type":"text","fontSize":8.5,"fontWeight":"bold","color":"#1a1a1a","baseline":"middle"},"encoding":{"text":{"field":"t"}}}
],"spacing":3},
{"hconcat":[
{"width":193,"height":148,"view":{"stroke":"#8c8c8c","fill":"white"},"resolve":{"axis":{"x":"independent","y":"independent"}},"layer":[
{"data":{"name":"LB"},"transform":[{"filter":"datum.p == 'N5'"}],"resolve":{"axis":{"x":"independent","y":"independent"}},"layer":[
{"mark":{"type":"rule","color":"#7f7f7f"},"encoding":{"x":{"datum":-0.5,"type":"quantitative","scale":{"domain":[-1.608,5.14],"nice":false,"zero":false},"axis":null},"y":{"datum":0,"type":"quantitative","scale":{"domain":[-123.1,635.9],"nice":false,"zero":false},"axis":null},"y2":{"datum":600}}},
{"mark":{"type":"rule","color":"#7f7f7f"},"encoding":{"x":{"datum":-0.5,"type":"quantitative","scale":{"domain":[-1.608,5.14],"nice":false,"zero":false},"axis":null},"x2":{"datum":4.5},"y":{"datum":0,"type":"quantitative","scale":{"domain":[-123.1,635.9],"nice":false,"zero":false},"axis":null}}}]},
{"data":{"name":"L"},"transform":[{"filter":"datum.p == 'ctl' || datum.p == 'N5'"},{"calculate":"datum.v - datum.e","as":"lo"},{"calculate":"datum.v + datum.e","as":"hi"}],"resolve":{"axis":{"x":"independent","y":"independent"}},"layer":[
{"mark":{"type":"line","strokeWidth":1.5},"encoding":{"x":{"field":"t","type":"quantitative","scale":{"domain":[-1.608,5.14],"nice":false,"zero":false},"axis":{"values":[0,1,2,3,4],"offset":-24,"ticks":false,"tickSize":0,"labelPadding":4,"labelFontSize":7,"labelOverlap":false,"title":"Induction time (hours)","titleFontSize":8.5,"titlePadding":2}},"y":{"field":"v","type":"quantitative","scale":{"domain":[-123.1,635.9],"nice":false,"zero":false},"axis":{"values":[0,100,200,300,400,500,600],"offset":-32,"tickSize":3,"labelPadding":1.5,"labelFontSize":7,"labelOverlap":false,"labelSeparation":-50,"title":"β-galactosidase activity (unit)","titleFontSize":8,"titlePadding":1}},"color":{"field":"s","type":"nominal","scale":{"domain":["pLacZ + pTAC","pLacZ + pTAC-N5","pLacZ-MHV-PS97 + pTAC","pLacZ-MHV-PS97 + pTAC-N5"],"range":["#7b40a8","#4a7bcc","#9bbb59","#b9423f"]}}}},
{"mark":{"type":"point","filled":true,"size":24,"opacity":1},"encoding":{"x":{"field":"t","type":"quantitative","scale":{"domain":[-1.608,5.14],"nice":false,"zero":false},"axis":null},"y":{"field":"v","type":"quantitative","scale":{"domain":[-123.1,635.9],"nice":false,"zero":false},"axis":null},"color":{"field":"s","type":"nominal","scale":{"domain":["pLacZ + pTAC","pLacZ + pTAC-N5","pLacZ-MHV-PS97 + pTAC","pLacZ-MHV-PS97 + pTAC-N5"],"range":["#7b40a8","#4a7bcc","#9bbb59","#b9423f"]},"legend":{"orient":"none","legendX":40,"legendY":3,"title":null,"padding":0,"rowPadding":0.8,"labelFontSize":6,"labelFontWeight":"bold","labelLimit":250,"labelOffset":7,"symbolSize":24}},"shape":{"field":"s","type":"nominal","scale":{"domain":["pLacZ + pTAC","pLacZ + pTAC-N5","pLacZ-MHV-PS97 + pTAC","pLacZ-MHV-PS97 + pTAC-N5"],"range":["circle","diamond","triangle-up","square"]},"legend":{"orient":"none","legendX":40,"legendY":3,"title":null,"padding":0,"rowPadding":0.8,"labelFontSize":6,"labelFontWeight":"bold","labelLimit":250,"labelOffset":7,"symbolSize":24}}}},
{"transform":[{"filter":"datum.e > 0"}],"mark":{"type":"rule","color":"#1a1a1a","strokeWidth":1},"encoding":{"x":{"field":"t","type":"quantitative","scale":{"domain":[-1.608,5.14],"nice":false,"zero":false},"axis":null},"y":{"field":"lo","type":"quantitative","scale":{"domain":[-123.1,635.9],"nice":false,"zero":false},"axis":null},"y2":{"field":"hi"}}},
{"transform":[{"filter":"datum.e > 0"}],"mark":{"type":"tick","color":"#1a1a1a","thickness":1,"size":4,"orient":"horizontal"},"encoding":{"x":{"field":"t","type":"quantitative","scale":{"domain":[-1.608,5.14],"nice":false,"zero":false},"axis":null},"y":{"field":"hi","type":"quantitative","scale":{"domain":[-123.1,635.9],"nice":false,"zero":false},"axis":null}}},
{"transform":[{"filter":"datum.e > 0"}],"mark":{"type":"tick","color":"#1a1a1a","thickness":1,"size":4,"orient":"horizontal"},"encoding":{"x":{"field":"t","type":"quantitative","scale":{"domain":[-1.608,5.14],"nice":false,"zero":false},"axis":null},"y":{"field":"lo","type":"quantitative","scale":{"domain":[-123.1,635.9],"nice":false,"zero":false},"axis":null}}}]},
{"data":{"name":"LB"},"transform":[{"filter":"datum.p == 'N5'"},{"calculate":"(datum.top + datum.bot) / 2","as":"mid"}],"resolve":{"axis":{"x":"independent","y":"independent"}},"layer":[
{"mark":{"type":"rule","color":"#1a1a1a","strokeWidth":1.3},"encoding":{"x":{"datum":4.2,"type":"quantitative","scale":{"domain":[-1.608,5.14],"nice":false,"zero":false},"axis":null},"y":{"field":"top","type":"quantitative","scale":{"domain":[-123.1,635.9],"nice":false,"zero":false},"axis":null},"y2":{"field":"bot"}}},
{"mark":{"type":"point","filled":true,"size":12,"opacity":1,"color":"#1a1a1a"},"encoding":{"x":{"datum":4.2,"type":"quantitative","scale":{"domain":[-1.608,5.14],"nice":false,"zero":false},"axis":null},"y":{"field":"top","type":"quantitative","scale":{"domain":[-123.1,635.9],"nice":false,"zero":false},"axis":null}}},
{"mark":{"type":"point","filled":true,"size":12,"opacity":1,"color":"#1a1a1a"},"encoding":{"x":{"datum":4.2,"type":"quantitative","scale":{"domain":[-1.608,5.14],"nice":false,"zero":false},"axis":null},"y":{"field":"bot","type":"quantitative","scale":{"domain":[-123.1,635.9],"nice":false,"zero":false},"axis":null}}},
{"mark":{"type":"text","align":"left","baseline":"middle","fontSize":10,"fontWeight":"bold","color":"#1a1a1a"},"encoding":{"x":{"datum":4.36,"type":"quantitative","scale":{"domain":[-1.608,5.14],"nice":false,"zero":false},"axis":null},"y":{"field":"mid","type":"quantitative","scale":{"domain":[-123.1,635.9],"nice":false,"zero":false},"axis":null},"text":{"field":"lab"}}}]}
]},
{"width":161,"height":148,"view":{"stroke":"#8c8c8c","fill":"white"},"resolve":{"scale":{"x":"independent"},"axis":{"x":"independent","y":"independent"}},"layer":[
{"data":{"name":"GR"},"resolve":{"axis":{"x":"independent","y":"independent"}},"layer":[
{"transform":[{"filter":"datum.g > 0"}],"mark":{"type":"rule","color":"#d9d9d9"},"encoding":{"x":{"datum":0,"type":"quantitative","scale":{"domain":[-0.2,1.0385],"nice":false,"zero":false},"axis":null},"x2":{"datum":1},"y":{"field":"g","type":"quantitative","scale":{"domain":[-0.2589,1.0625],"nice":false,"zero":false},"axis":null}}},
{"transform":[{"filter":"datum.g == 0"}],"mark":{"type":"rule","color":"#8c8c8c"},"encoding":{"x":{"datum":0,"type":"quantitative","scale":{"domain":[-0.2,1.0385],"nice":false,"zero":false},"axis":null},"x2":{"datum":1},"y":{"field":"g","type":"quantitative","scale":{"domain":[-0.2589,1.0625],"nice":false,"zero":false},"axis":null}}},
{"transform":[{"filter":"datum.g == 1"}],"mark":{"type":"rule","color":"#8c8c8c"},"encoding":{"x":{"datum":0,"type":"quantitative","scale":{"domain":[-0.2,1.0385],"nice":false,"zero":false},"axis":null},"y":{"datum":0,"type":"quantitative","scale":{"domain":[-0.2589,1.0625],"nice":false,"zero":false},"axis":null},"y2":{"datum":1}}}]},
{"resolve":{"axis":{"x":"independent","y":"independent"}},"layer":[
{"data":{"name":"BR"},"transform":[{"filter":"datum.p == 'ctl' || datum.p == 'N5'"}],"resolve":{"axis":{"x":"independent","y":"independent"}},"layer":[
{"mark":{"type":"bar"},"encoding":{"x":{"field":"g","type":"nominal","scale":{"domain":["pLacZ + pTAC-N5","MHV-PS + pTAC-N5","MHV-PS + pTAC","pLacZ + pTAC"],"paddingInner":0.6,"paddingOuter":0.939,"align":0.74},"axis":{"offset":-29,"ticks":false,"tickSize":0,"labelAngle":0,"labelOverlap":false,"labelExpr":"split(datum.label, ' ')","labelFontSize":6.3,"labelLineHeight":7,"labelPadding":3,"labelBaseline":"top","title":null}},"y":{"field":"v","type":"quantitative","scale":{"domain":[-0.2589,1.0625],"nice":false,"zero":false},"axis":{"values":[0,0.1,0.2,0.3,0.4,0.5,0.6,0.7,0.8,0.9,1],"format":"~g","offset":-26,"tickSize":2,"labelPadding":1.5,"labelFontSize":6.3,"labelOverlap":false,"labelSeparation":-50,"title":"β-galactodase (OD 575 nm)","titleFontSize":7.2,"titlePadding":1.5}},"y2":{"datum":0},"color":{"field":"g","type":"nominal","scale":{"domain":["pLacZ + pTAC-N5","MHV-PS + pTAC-N5","MHV-PS + pTAC","pLacZ + pTAC"],"range":["#4f6db8","#a3403d","#6e8c33","#5c2291"]},"legend":null}}},
{"mark":{"type":"rule","color":"#1a1a1a"},"encoding":{"x":{"field":"g","type":"nominal","scale":{"domain":["pLacZ + pTAC-N5","MHV-PS + pTAC-N5","MHV-PS + pTAC","pLacZ + pTAC"],"paddingInner":0.6,"paddingOuter":0.939,"align":0.74},"axis":null},"y":{"field":"v","type":"quantitative","scale":{"domain":[-0.2589,1.0625],"nice":false,"zero":false},"axis":null},"y2":{"field":"hi"}}},
{"mark":{"type":"tick","color":"#1a1a1a","thickness":1,"size":5,"orient":"horizontal"},"encoding":{"x":{"field":"g","type":"nominal","scale":{"domain":["pLacZ + pTAC-N5","MHV-PS + pTAC-N5","MHV-PS + pTAC","pLacZ + pTAC"],"paddingInner":0.6,"paddingOuter":0.939,"align":0.74},"axis":null},"y":{"field":"hi","type":"quantitative","scale":{"domain":[-0.2589,1.0625],"nice":false,"zero":false},"axis":null}}}]},
{"data":{"name":"BB"},"transform":[{"filter":"datum.p == 'N5'"}],"resolve":{"axis":{"x":"independent","y":"independent"}},"layer":[
{"mark":{"type":"line","color":"#1a1a1a","strokeWidth":1.3},"encoding":{"x":{"field":"g","type":"nominal","scale":{"domain":["pLacZ + pTAC-N5","MHV-PS + pTAC-N5","MHV-PS + pTAC","pLacZ + pTAC"],"paddingInner":0.6,"paddingOuter":0.939,"align":0.74},"axis":null},"y":{"field":"y","type":"quantitative","scale":{"domain":[-0.2589,1.0625],"nice":false,"zero":false},"axis":null}}},
{"mark":{"type":"point","filled":true,"size":12,"opacity":1,"color":"#1a1a1a"},"encoding":{"x":{"field":"g","type":"nominal","scale":{"domain":["pLacZ + pTAC-N5","MHV-PS + pTAC-N5","MHV-PS + pTAC","pLacZ + pTAC"],"paddingInner":0.6,"paddingOuter":0.939,"align":0.74},"axis":null},"y":{"field":"y","type":"quantitative","scale":{"domain":[-0.2589,1.0625],"nice":false,"zero":false},"axis":null}}},
{"transform":[{"filter":"datum.lab != ''"}],"mark":{"type":"text","fontSize":10,"fontWeight":"bold","dx":15,"dy":-7,"baseline":"middle","color":"#1a1a1a"},"encoding":{"x":{"field":"g","type":"nominal","scale":{"domain":["pLacZ + pTAC-N5","MHV-PS + pTAC-N5","MHV-PS + pTAC","pLacZ + pTAC"],"paddingInner":0.6,"paddingOuter":0.939,"align":0.74},"axis":null},"y":{"field":"y","type":"quantitative","scale":{"domain":[-0.2589,1.0625],"nice":false,"zero":false},"axis":null},"text":{"field":"lab"}}}]}
]}
]}
],"spacing":3,"resolve":{"scale":{"color":"independent","shape":"independent"},"legend":{"color":"independent","shape":"independent"}}}
],"spacing":3,"resolve":{"scale":{"color":"independent","shape":"independent"},"legend":{"color":"independent","shape":"independent"}}}
],"spacing":5.5,"resolve":{"scale":{"color":"independent","shape":"independent"},"legend":{"color":"independent","shape":"independent"}}}
],"spacing":14.5,"resolve":{"scale":{"color":"independent","shape":"independent"},"legend":{"color":"independent","shape":"independent"}}},
{"hconcat":[
{"hconcat":[
{"width":18,"height":17,"data":{"values":[{"t":"C"}]},"mark":{"type":"text","fontSize":17,"fontWeight":"bold","color":"#111111","baseline":"middle"},"encoding":{"text":{"field":"t"}}},
{"vconcat":[
{"width":357,"height":14,"view":{"fill":"#ececec","stroke":"#a6a6a6"},"data":{"values":[{"t":"N2(1-181)"}]},"mark":{"type":"text","fontSize":10.5,"fontWeight":"bold","color":"#1a1a1a","baseline":"middle"},"encoding":{"text":{"field":"t"}}},
{"hconcat":[
{"width":191,"height":14,"view":{"fill":"#ececec","stroke":"#a6a6a6"},"data":{"values":[{"t":"ONPG"}]},"mark":{"type":"text","fontSize":8.5,"fontWeight":"bold","color":"#1a1a1a","baseline":"middle"},"encoding":{"text":{"field":"t"}}},
{"width":160,"height":14,"view":{"fill":"#ececec","stroke":"#a6a6a6"},"data":{"values":[{"t":"CPRG"}]},"mark":{"type":"text","fontSize":8.5,"fontWeight":"bold","color":"#1a1a1a","baseline":"middle"},"encoding":{"text":{"field":"t"}}}
],"spacing":5},
{"hconcat":[
{"width":191,"height":148,"view":{"stroke":"#8c8c8c","fill":"white"},"resolve":{"axis":{"x":"independent","y":"independent"}},"layer":[
{"data":{"name":"LB"},"transform":[{"filter":"datum.p == 'N2'"}],"resolve":{"axis":{"x":"independent","y":"independent"}},"layer":[
{"mark":{"type":"rule","color":"#7f7f7f"},"encoding":{"x":{"datum":-0.5,"type":"quantitative","scale":{"domain":[-1.608,5.07],"nice":false,"zero":false},"axis":null},"y":{"datum":0,"type":"quantitative","scale":{"domain":[-123.1,635.9],"nice":false,"zero":false},"axis":null},"y2":{"datum":600}}},
{"mark":{"type":"rule","color":"#7f7f7f"},"encoding":{"x":{"datum":-0.5,"type":"quantitative","scale":{"domain":[-1.608,5.07],"nice":false,"zero":false},"axis":null},"x2":{"datum":4.5},"y":{"datum":0,"type":"quantitative","scale":{"domain":[-123.1,635.9],"nice":false,"zero":false},"axis":null}}}]},
{"data":{"name":"L"},"transform":[{"filter":"datum.p == 'ctl' || datum.p == 'N2'"},{"calculate":"datum.v - datum.e","as":"lo"},{"calculate":"datum.v + datum.e","as":"hi"}],"resolve":{"axis":{"x":"independent","y":"independent"}},"layer":[
{"mark":{"type":"line","strokeWidth":1.5},"encoding":{"x":{"field":"t","type":"quantitative","scale":{"domain":[-1.608,5.07],"nice":false,"zero":false},"axis":{"values":[0,1,2,3,4],"offset":-24,"ticks":false,"tickSize":0,"labelPadding":4,"labelFontSize":7,"labelOverlap":false,"title":"Induction time (hours)","titleFontSize":8.5,"titlePadding":2}},"y":{"field":"v","type":"quantitative","scale":{"domain":[-123.1,635.9],"nice":false,"zero":false},"axis":{"values":[0,100,200,300,400,500,600],"offset":-32,"tickSize":3,"labelPadding":1.5,"labelFontSize":7,"labelOverlap":false,"labelSeparation":-50,"title":"β-galactosidase activity (unit)","titleFontSize":8,"titlePadding":1}},"color":{"field":"s","type":"nominal","scale":{"domain":["pLacZ + pTAC","pLacZ + pTAC-N2","pLacZ-MHV-PS97 + pTAC","pLacZ-MHV-PS97 + pTAC-N2"],"range":["#7b40a8","#4a7bcc","#9bbb59","#b9423f"]}}}},
{"mark":{"type":"point","filled":true,"size":24,"opacity":1},"encoding":{"x":{"field":"t","type":"quantitative","scale":{"domain":[-1.608,5.07],"nice":false,"zero":false},"axis":null},"y":{"field":"v","type":"quantitative","scale":{"domain":[-123.1,635.9],"nice":false,"zero":false},"axis":null},"color":{"field":"s","type":"nominal","scale":{"domain":["pLacZ + pTAC","pLacZ + pTAC-N2","pLacZ-MHV-PS97 + pTAC","pLacZ-MHV-PS97 + pTAC-N2"],"range":["#7b40a8","#4a7bcc","#9bbb59","#b9423f"]},"legend":{"orient":"none","legendX":40,"legendY":3,"title":null,"padding":0,"rowPadding":0.8,"labelFontSize":6,"labelFontWeight":"bold","labelLimit":250,"labelOffset":7,"symbolSize":24}},"shape":{"field":"s","type":"nominal","scale":{"domain":["pLacZ + pTAC","pLacZ + pTAC-N2","pLacZ-MHV-PS97 + pTAC","pLacZ-MHV-PS97 + pTAC-N2"],"range":["circle","diamond","triangle-up","square"]},"legend":{"orient":"none","legendX":40,"legendY":3,"title":null,"padding":0,"rowPadding":0.8,"labelFontSize":6,"labelFontWeight":"bold","labelLimit":250,"labelOffset":7,"symbolSize":24}}}},
{"transform":[{"filter":"datum.e > 0"}],"mark":{"type":"rule","color":"#1a1a1a","strokeWidth":1},"encoding":{"x":{"field":"t","type":"quantitative","scale":{"domain":[-1.608,5.07],"nice":false,"zero":false},"axis":null},"y":{"field":"lo","type":"quantitative","scale":{"domain":[-123.1,635.9],"nice":false,"zero":false},"axis":null},"y2":{"field":"hi"}}},
{"transform":[{"filter":"datum.e > 0"}],"mark":{"type":"tick","color":"#1a1a1a","thickness":1,"size":4,"orient":"horizontal"},"encoding":{"x":{"field":"t","type":"quantitative","scale":{"domain":[-1.608,5.07],"nice":false,"zero":false},"axis":null},"y":{"field":"hi","type":"quantitative","scale":{"domain":[-123.1,635.9],"nice":false,"zero":false},"axis":null}}},
{"transform":[{"filter":"datum.e > 0"}],"mark":{"type":"tick","color":"#1a1a1a","thickness":1,"size":4,"orient":"horizontal"},"encoding":{"x":{"field":"t","type":"quantitative","scale":{"domain":[-1.608,5.07],"nice":false,"zero":false},"axis":null},"y":{"field":"lo","type":"quantitative","scale":{"domain":[-123.1,635.9],"nice":false,"zero":false},"axis":null}}}]},
{"data":{"name":"LB"},"transform":[{"filter":"datum.p == 'N2'"},{"calculate":"(datum.top + datum.bot) / 2","as":"mid"}],"resolve":{"axis":{"x":"independent","y":"independent"}},"layer":[
{"mark":{"type":"rule","color":"#1a1a1a","strokeWidth":1.3},"encoding":{"x":{"datum":4.2,"type":"quantitative","scale":{"domain":[-1.608,5.07],"nice":false,"zero":false},"axis":null},"y":{"field":"top","type":"quantitative","scale":{"domain":[-123.1,635.9],"nice":false,"zero":false},"axis":null},"y2":{"field":"bot"}}},
{"mark":{"type":"point","filled":true,"size":12,"opacity":1,"color":"#1a1a1a"},"encoding":{"x":{"datum":4.2,"type":"quantitative","scale":{"domain":[-1.608,5.07],"nice":false,"zero":false},"axis":null},"y":{"field":"top","type":"quantitative","scale":{"domain":[-123.1,635.9],"nice":false,"zero":false},"axis":null}}},
{"mark":{"type":"point","filled":true,"size":12,"opacity":1,"color":"#1a1a1a"},"encoding":{"x":{"datum":4.2,"type":"quantitative","scale":{"domain":[-1.608,5.07],"nice":false,"zero":false},"axis":null},"y":{"field":"bot","type":"quantitative","scale":{"domain":[-123.1,635.9],"nice":false,"zero":false},"axis":null}}},
{"mark":{"type":"text","align":"left","baseline":"middle","fontSize":10,"fontWeight":"bold","color":"#1a1a1a"},"encoding":{"x":{"datum":4.36,"type":"quantitative","scale":{"domain":[-1.608,5.07],"nice":false,"zero":false},"axis":null},"y":{"field":"mid","type":"quantitative","scale":{"domain":[-123.1,635.9],"nice":false,"zero":false},"axis":null},"text":{"field":"lab"}}}]}
]},
{"width":160,"height":148,"view":{"stroke":"#8c8c8c","fill":"white"},"resolve":{"scale":{"x":"independent"},"axis":{"x":"independent","y":"independent"}},"layer":[
{"data":{"name":"GR"},"resolve":{"axis":{"x":"independent","y":"independent"}},"layer":[
{"transform":[{"filter":"datum.g > 0"}],"mark":{"type":"rule","color":"#d9d9d9"},"encoding":{"x":{"datum":0,"type":"quantitative","scale":{"domain":[-0.2,1.0308],"nice":false,"zero":false},"axis":null},"x2":{"datum":1},"y":{"field":"g","type":"quantitative","scale":{"domain":[-0.2589,1.0625],"nice":false,"zero":false},"axis":null}}},
{"transform":[{"filter":"datum.g == 0"}],"mark":{"type":"rule","color":"#8c8c8c"},"encoding":{"x":{"datum":0,"type":"quantitative","scale":{"domain":[-0.2,1.0308],"nice":false,"zero":false},"axis":null},"x2":{"datum":1},"y":{"field":"g","type":"quantitative","scale":{"domain":[-0.2589,1.0625],"nice":false,"zero":false},"axis":null}}},
{"transform":[{"filter":"datum.g == 1"}],"mark":{"type":"rule","color":"#8c8c8c"},"encoding":{"x":{"datum":0,"type":"quantitative","scale":{"domain":[-0.2,1.0308],"nice":false,"zero":false},"axis":null},"y":{"datum":0,"type":"quantitative","scale":{"domain":[-0.2589,1.0625],"nice":false,"zero":false},"axis":null},"y2":{"datum":1}}}]},
{"resolve":{"axis":{"x":"independent","y":"independent"}},"layer":[
{"data":{"name":"BR"},"transform":[{"filter":"datum.p == 'ctl' || datum.p == 'N2'"}],"resolve":{"axis":{"x":"independent","y":"independent"}},"layer":[
{"mark":{"type":"bar"},"encoding":{"x":{"field":"g","type":"nominal","scale":{"domain":["pLacZ + pTAC-N2","MHV-PS + pTAC-N2","MHV-PS + pTAC","pLacZ + pTAC"],"paddingInner":0.6,"paddingOuter":0.923,"align":0.744},"axis":{"offset":-29,"ticks":false,"tickSize":0,"labelAngle":0,"labelOverlap":false,"labelExpr":"split(datum.label, ' ')","labelFontSize":6.3,"labelLineHeight":7,"labelPadding":3,"labelBaseline":"top","title":null}},"y":{"field":"v","type":"quantitative","scale":{"domain":[-0.2589,1.0625],"nice":false,"zero":false},"axis":{"values":[0,0.1,0.2,0.3,0.4,0.5,0.6,0.7,0.8,0.9,1],"format":"~g","offset":-26,"tickSize":2,"labelPadding":1.5,"labelFontSize":6.3,"labelOverlap":false,"labelSeparation":-50,"title":"β-galactosidase (OD 575 nm)","titleFontSize":7.2,"titlePadding":1.5}},"y2":{"datum":0},"color":{"field":"g","type":"nominal","scale":{"domain":["pLacZ + pTAC-N2","MHV-PS + pTAC-N2","MHV-PS + pTAC","pLacZ + pTAC"],"range":["#4f6db8","#a3403d","#6e8c33","#5c2291"]},"legend":null}}},
{"mark":{"type":"rule","color":"#1a1a1a"},"encoding":{"x":{"field":"g","type":"nominal","scale":{"domain":["pLacZ + pTAC-N2","MHV-PS + pTAC-N2","MHV-PS + pTAC","pLacZ + pTAC"],"paddingInner":0.6,"paddingOuter":0.923,"align":0.744},"axis":null},"y":{"field":"v","type":"quantitative","scale":{"domain":[-0.2589,1.0625],"nice":false,"zero":false},"axis":null},"y2":{"field":"hi"}}},
{"mark":{"type":"tick","color":"#1a1a1a","thickness":1,"size":5,"orient":"horizontal"},"encoding":{"x":{"field":"g","type":"nominal","scale":{"domain":["pLacZ + pTAC-N2","MHV-PS + pTAC-N2","MHV-PS + pTAC","pLacZ + pTAC"],"paddingInner":0.6,"paddingOuter":0.923,"align":0.744},"axis":null},"y":{"field":"hi","type":"quantitative","scale":{"domain":[-0.2589,1.0625],"nice":false,"zero":false},"axis":null}}}]},
{"data":{"name":"BB"},"transform":[{"filter":"datum.p == 'N2'"}],"resolve":{"axis":{"x":"independent","y":"independent"}},"layer":[
{"mark":{"type":"line","color":"#1a1a1a","strokeWidth":1.3},"encoding":{"x":{"field":"g","type":"nominal","scale":{"domain":["pLacZ + pTAC-N2","MHV-PS + pTAC-N2","MHV-PS + pTAC","pLacZ + pTAC"],"paddingInner":0.6,"paddingOuter":0.923,"align":0.744},"axis":null},"y":{"field":"y","type":"quantitative","scale":{"domain":[-0.2589,1.0625],"nice":false,"zero":false},"axis":null}}},
{"mark":{"type":"point","filled":true,"size":12,"opacity":1,"color":"#1a1a1a"},"encoding":{"x":{"field":"g","type":"nominal","scale":{"domain":["pLacZ + pTAC-N2","MHV-PS + pTAC-N2","MHV-PS + pTAC","pLacZ + pTAC"],"paddingInner":0.6,"paddingOuter":0.923,"align":0.744},"axis":null},"y":{"field":"y","type":"quantitative","scale":{"domain":[-0.2589,1.0625],"nice":false,"zero":false},"axis":null}}},
{"transform":[{"filter":"datum.lab != ''"}],"mark":{"type":"text","fontSize":10,"fontWeight":"bold","dx":15,"dy":-7,"baseline":"middle","color":"#1a1a1a"},"encoding":{"x":{"field":"g","type":"nominal","scale":{"domain":["pLacZ + pTAC-N2","MHV-PS + pTAC-N2","MHV-PS + pTAC","pLacZ + pTAC"],"paddingInner":0.6,"paddingOuter":0.923,"align":0.744},"axis":null},"y":{"field":"y","type":"quantitative","scale":{"domain":[-0.2589,1.0625],"nice":false,"zero":false},"axis":null},"text":{"field":"lab"}}}]}
]}
]}
],"spacing":5,"resolve":{"scale":{"color":"independent","shape":"independent"},"legend":{"color":"independent","shape":"independent"}}}
],"spacing":3,"resolve":{"scale":{"color":"independent","shape":"independent"},"legend":{"color":"independent","shape":"independent"}}}
],"spacing":5.5,"resolve":{"scale":{"color":"independent","shape":"independent"},"legend":{"color":"independent","shape":"independent"}}},
{"hconcat":[
{"width":18,"height":17,"data":{"values":[{"t":"G"}]},"mark":{"type":"text","fontSize":17,"fontWeight":"bold","color":"#111111","baseline":"middle"},"encoding":{"text":{"field":"t"}}},
{"vconcat":[
{"width":358,"height":14,"view":{"fill":"#ececec","stroke":"#a6a6a6"},"data":{"values":[{"t":"N6(182-422)"}]},"mark":{"type":"text","fontSize":10.5,"fontWeight":"bold","color":"#1a1a1a","baseline":"middle"},"encoding":{"text":{"field":"t"}}},
{"hconcat":[
{"width":193,"height":14,"view":{"fill":"#ececec","stroke":"#a6a6a6"},"data":{"values":[{"t":"ONPG"}]},"mark":{"type":"text","fontSize":8.5,"fontWeight":"bold","color":"#1a1a1a","baseline":"middle"},"encoding":{"text":{"field":"t"}}},
{"width":161,"height":14,"view":{"fill":"#ececec","stroke":"#a6a6a6"},"data":{"values":[{"t":"CPRG"}]},"mark":{"type":"text","fontSize":8.5,"fontWeight":"bold","color":"#1a1a1a","baseline":"middle"},"encoding":{"text":{"field":"t"}}}
],"spacing":3},
{"hconcat":[
{"width":193,"height":148,"view":{"stroke":"#8c8c8c","fill":"white"},"resolve":{"axis":{"x":"independent","y":"independent"}},"layer":[
{"data":{"name":"LB"},"transform":[{"filter":"datum.p == 'N6'"}],"resolve":{"axis":{"x":"independent","y":"independent"}},"layer":[
{"mark":{"type":"rule","color":"#7f7f7f"},"encoding":{"x":{"datum":-0.5,"type":"quantitative","scale":{"domain":[-1.608,5.14],"nice":false,"zero":false},"axis":null},"y":{"datum":0,"type":"quantitative","scale":{"domain":[-123.1,635.9],"nice":false,"zero":false},"axis":null},"y2":{"datum":600}}},
{"mark":{"type":"rule","color":"#7f7f7f"},"encoding":{"x":{"datum":-0.5,"type":"quantitative","scale":{"domain":[-1.608,5.14],"nice":false,"zero":false},"axis":null},"x2":{"datum":4.5},"y":{"datum":0,"type":"quantitative","scale":{"domain":[-123.1,635.9],"nice":false,"zero":false},"axis":null}}}]},
{"data":{"name":"L"},"transform":[{"filter":"datum.p == 'ctl' || datum.p == 'N6'"},{"calculate":"datum.v - datum.e","as":"lo"},{"calculate":"datum.v + datum.e","as":"hi"}],"resolve":{"axis":{"x":"independent","y":"independent"}},"layer":[
{"mark":{"type":"line","strokeWidth":1.5},"encoding":{"x":{"field":"t","type":"quantitative","scale":{"domain":[-1.608,5.14],"nice":false,"zero":false},"axis":{"values":[0,1,2,3,4],"offset":-24,"ticks":false,"tickSize":0,"labelPadding":4,"labelFontSize":7,"labelOverlap":false,"title":"Induction time (hours)","titleFontSize":8.5,"titlePadding":2}},"y":{"field":"v","type":"quantitative","scale":{"domain":[-123.1,635.9],"nice":false,"zero":false},"axis":{"values":[0,100,200,300,400,500,600],"offset":-32,"tickSize":3,"labelPadding":1.5,"labelFontSize":7,"labelOverlap":false,"labelSeparation":-50,"title":"β-galactosidase activity (unit)","titleFontSize":8,"titlePadding":1}},"color":{"field":"s","type":"nominal","scale":{"domain":["pLacZ + pTAC","pLacZ + pTAC-N6","pLacZ-MHV-PS97 + pTAC","pLacZ-MHV-PS97 + pTAC-N6"],"range":["#7b40a8","#4a7bcc","#9bbb59","#b9423f"]}}}},
{"mark":{"type":"point","filled":true,"size":24,"opacity":1},"encoding":{"x":{"field":"t","type":"quantitative","scale":{"domain":[-1.608,5.14],"nice":false,"zero":false},"axis":null},"y":{"field":"v","type":"quantitative","scale":{"domain":[-123.1,635.9],"nice":false,"zero":false},"axis":null},"color":{"field":"s","type":"nominal","scale":{"domain":["pLacZ + pTAC","pLacZ + pTAC-N6","pLacZ-MHV-PS97 + pTAC","pLacZ-MHV-PS97 + pTAC-N6"],"range":["#7b40a8","#4a7bcc","#9bbb59","#b9423f"]},"legend":{"orient":"none","legendX":40,"legendY":3,"title":null,"padding":0,"rowPadding":0.8,"labelFontSize":6,"labelFontWeight":"bold","labelLimit":250,"labelOffset":7,"symbolSize":24}},"shape":{"field":"s","type":"nominal","scale":{"domain":["pLacZ + pTAC","pLacZ + pTAC-N6","pLacZ-MHV-PS97 + pTAC","pLacZ-MHV-PS97 + pTAC-N6"],"range":["circle","diamond","triangle-up","square"]},"legend":{"orient":"none","legendX":40,"legendY":3,"title":null,"padding":0,"rowPadding":0.8,"labelFontSize":6,"labelFontWeight":"bold","labelLimit":250,"labelOffset":7,"symbolSize":24}}}},
{"transform":[{"filter":"datum.e > 0"}],"mark":{"type":"rule","color":"#1a1a1a","strokeWidth":1},"encoding":{"x":{"field":"t","type":"quantitative","scale":{"domain":[-1.608,5.14],"nice":false,"zero":false},"axis":null},"y":{"field":"lo","type":"quantitative","scale":{"domain":[-123.1,635.9],"nice":false,"zero":false},"axis":null},"y2":{"field":"hi"}}},
{"transform":[{"filter":"datum.e > 0"}],"mark":{"type":"tick","color":"#1a1a1a","thickness":1,"size":4,"orient":"horizontal"},"encoding":{"x":{"field":"t","type":"quantitative","scale":{"domain":[-1.608,5.14],"nice":false,"zero":false},"axis":null},"y":{"field":"hi","type":"quantitative","scale":{"domain":[-123.1,635.9],"nice":false,"zero":false},"axis":null}}},
{"transform":[{"filter":"datum.e > 0"}],"mark":{"type":"tick","color":"#1a1a1a","thickness":1,"size":4,"orient":"horizontal"},"encoding":{"x":{"field":"t","type":"quantitative","scale":{"domain":[-1.608,5.14],"nice":false,"zero":false},"axis":null},"y":{"field":"lo","type":"quantitative","scale":{"domain":[-123.1,635.9],"nice":false,"zero":false},"axis":null}}}]},
{"data":{"name":"LB"},"transform":[{"filter":"datum.p == 'N6'"},{"calculate":"(datum.top + datum.bot) / 2","as":"mid"}],"resolve":{"axis":{"x":"independent","y":"independent"}},"layer":[
{"mark":{"type":"rule","color":"#1a1a1a","strokeWidth":1.3},"encoding":{"x":{"datum":4.2,"type":"quantitative","scale":{"domain":[-1.608,5.14],"nice":false,"zero":false},"axis":null},"y":{"field":"top","type":"quantitative","scale":{"domain":[-123.1,635.9],"nice":false,"zero":false},"axis":null},"y2":{"field":"bot"}}},
{"mark":{"type":"point","filled":true,"size":12,"opacity":1,"color":"#1a1a1a"},"encoding":{"x":{"datum":4.2,"type":"quantitative","scale":{"domain":[-1.608,5.14],"nice":false,"zero":false},"axis":null},"y":{"field":"top","type":"quantitative","scale":{"domain":[-123.1,635.9],"nice":false,"zero":false},"axis":null}}},
{"mark":{"type":"point","filled":true,"size":12,"opacity":1,"color":"#1a1a1a"},"encoding":{"x":{"datum":4.2,"type":"quantitative","scale":{"domain":[-1.608,5.14],"nice":false,"zero":false},"axis":null},"y":{"field":"bot","type":"quantitative","scale":{"domain":[-123.1,635.9],"nice":false,"zero":false},"axis":null}}},
{"mark":{"type":"text","align":"left","baseline":"middle","fontSize":10,"fontWeight":"bold","color":"#1a1a1a"},"encoding":{"x":{"datum":4.36,"type":"quantitative","scale":{"domain":[-1.608,5.14],"nice":false,"zero":false},"axis":null},"y":{"field":"mid","type":"quantitative","scale":{"domain":[-123.1,635.9],"nice":false,"zero":false},"axis":null},"text":{"field":"lab"}}}]}
]},
{"width":161,"height":148,"view":{"stroke":"#8c8c8c","fill":"white"},"resolve":{"scale":{"x":"independent"},"axis":{"x":"independent","y":"independent"}},"layer":[
{"data":{"name":"GR"},"resolve":{"axis":{"x":"independent","y":"independent"}},"layer":[
{"transform":[{"filter":"datum.g > 0"}],"mark":{"type":"rule","color":"#d9d9d9"},"encoding":{"x":{"datum":0,"type":"quantitative","scale":{"domain":[-0.2,1.0385],"nice":false,"zero":false},"axis":null},"x2":{"datum":1},"y":{"field":"g","type":"quantitative","scale":{"domain":[-0.2589,1.0625],"nice":false,"zero":false},"axis":null}}},
{"transform":[{"filter":"datum.g == 0"}],"mark":{"type":"rule","color":"#8c8c8c"},"encoding":{"x":{"datum":0,"type":"quantitative","scale":{"domain":[-0.2,1.0385],"nice":false,"zero":false},"axis":null},"x2":{"datum":1},"y":{"field":"g","type":"quantitative","scale":{"domain":[-0.2589,1.0625],"nice":false,"zero":false},"axis":null}}},
{"transform":[{"filter":"datum.g == 1"}],"mark":{"type":"rule","color":"#8c8c8c"},"encoding":{"x":{"datum":0,"type":"quantitative","scale":{"domain":[-0.2,1.0385],"nice":false,"zero":false},"axis":null},"y":{"datum":0,"type":"quantitative","scale":{"domain":[-0.2589,1.0625],"nice":false,"zero":false},"axis":null},"y2":{"datum":1}}}]},
{"resolve":{"axis":{"x":"independent","y":"independent"}},"layer":[
{"data":{"name":"BR"},"transform":[{"filter":"datum.p == 'ctl' || datum.p == 'N6'"}],"resolve":{"axis":{"x":"independent","y":"independent"}},"layer":[
{"mark":{"type":"bar"},"encoding":{"x":{"field":"g","type":"nominal","scale":{"domain":["pLacZ + pTAC-N6","MHV-PS + pTAC-N6","MHV-PS + pTAC","pLacZ + pTAC"],"paddingInner":0.6,"paddingOuter":0.939,"align":0.74},"axis":{"offset":-29,"ticks":false,"tickSize":0,"labelAngle":0,"labelOverlap":false,"labelExpr":"split(datum.label, ' ')","labelFontSize":6.3,"labelLineHeight":7,"labelPadding":3,"labelBaseline":"top","title":null}},"y":{"field":"v","type":"quantitative","scale":{"domain":[-0.2589,1.0625],"nice":false,"zero":false},"axis":{"values":[0,0.1,0.2,0.3,0.4,0.5,0.6,0.7,0.8,0.9,1],"format":"~g","offset":-26,"tickSize":2,"labelPadding":1.5,"labelFontSize":6.3,"labelOverlap":false,"labelSeparation":-50,"title":"β-galactodase (OD 575 nm)","titleFontSize":7.2,"titlePadding":1.5}},"y2":{"datum":0},"color":{"field":"g","type":"nominal","scale":{"domain":["pLacZ + pTAC-N6","MHV-PS + pTAC-N6","MHV-PS + pTAC","pLacZ + pTAC"],"range":["#4f6db8","#a3403d","#6e8c33","#5c2291"]},"legend":null}}},
{"mark":{"type":"rule","color":"#1a1a1a"},"encoding":{"x":{"field":"g","type":"nominal","scale":{"domain":["pLacZ + pTAC-N6","MHV-PS + pTAC-N6","MHV-PS + pTAC","pLacZ + pTAC"],"paddingInner":0.6,"paddingOuter":0.939,"align":0.74},"axis":null},"y":{"field":"v","type":"quantitative","scale":{"domain":[-0.2589,1.0625],"nice":false,"zero":false},"axis":null},"y2":{"field":"hi"}}},
{"mark":{"type":"tick","color":"#1a1a1a","thickness":1,"size":5,"orient":"horizontal"},"encoding":{"x":{"field":"g","type":"nominal","scale":{"domain":["pLacZ + pTAC-N6","MHV-PS + pTAC-N6","MHV-PS + pTAC","pLacZ + pTAC"],"paddingInner":0.6,"paddingOuter":0.939,"align":0.74},"axis":null},"y":{"field":"hi","type":"quantitative","scale":{"domain":[-0.2589,1.0625],"nice":false,"zero":false},"axis":null}}}]},
{"data":{"name":"BB"},"transform":[{"filter":"datum.p == 'N6'"}],"resolve":{"axis":{"x":"independent","y":"independent"}},"layer":[
{"mark":{"type":"line","color":"#1a1a1a","strokeWidth":1.3},"encoding":{"x":{"field":"g","type":"nominal","scale":{"domain":["pLacZ + pTAC-N6","MHV-PS + pTAC-N6","MHV-PS + pTAC","pLacZ + pTAC"],"paddingInner":0.6,"paddingOuter":0.939,"align":0.74},"axis":null},"y":{"field":"y","type":"quantitative","scale":{"domain":[-0.2589,1.0625],"nice":false,"zero":false},"axis":null}}},
{"mark":{"type":"point","filled":true,"size":12,"opacity":1,"color":"#1a1a1a"},"encoding":{"x":{"field":"g","type":"nominal","scale":{"domain":["pLacZ + pTAC-N6","MHV-PS + pTAC-N6","MHV-PS + pTAC","pLacZ + pTAC"],"paddingInner":0.6,"paddingOuter":0.939,"align":0.74},"axis":null},"y":{"field":"y","type":"quantitative","scale":{"domain":[-0.2589,1.0625],"nice":false,"zero":false},"axis":null}}},
{"transform":[{"filter":"datum.lab != ''"}],"mark":{"type":"text","fontSize":10,"fontWeight":"bold","dx":15,"dy":-7,"baseline":"middle","color":"#1a1a1a"},"encoding":{"x":{"field":"g","type":"nominal","scale":{"domain":["pLacZ + pTAC-N6","MHV-PS + pTAC-N6","MHV-PS + pTAC","pLacZ + pTAC"],"paddingInner":0.6,"paddingOuter":0.939,"align":0.74},"axis":null},"y":{"field":"y","type":"quantitative","scale":{"domain":[-0.2589,1.0625],"nice":false,"zero":false},"axis":null},"text":{"field":"lab"}}}]}
]}
]}
],"spacing":3,"resolve":{"scale":{"color":"independent","shape":"independent"},"legend":{"color":"independent","shape":"independent"}}}
],"spacing":3,"resolve":{"scale":{"color":"independent","shape":"independent"},"legend":{"color":"independent","shape":"independent"}}}
],"spacing":5.5,"resolve":{"scale":{"color":"independent","shape":"independent"},"legend":{"color":"independent","shape":"independent"}}}
],"spacing":14.5,"resolve":{"scale":{"color":"independent","shape":"independent"},"legend":{"color":"independent","shape":"independent"}}},
{"hconcat":[
{"hconcat":[
{"width":18,"height":17,"data":{"values":[{"t":"D"}]},"mark":{"type":"text","fontSize":17,"fontWeight":"bold","color":"#111111","baseline":"middle"},"encoding":{"text":{"field":"t"}}},
{"vconcat":[
{"width":357,"height":14,"view":{"fill":"#ececec","stroke":"#a6a6a6"},"data":{"values":[{"t":"N3(1-365)"}]},"mark":{"type":"text","fontSize":10.5,"fontWeight":"bold","color":"#1a1a1a","baseline":"middle"},"encoding":{"text":{"field":"t"}}},
{"hconcat":[
{"width":191,"height":14,"view":{"fill":"#ececec","stroke":"#a6a6a6"},"data":{"values":[{"t":"ONPG"}]},"mark":{"type":"text","fontSize":8.5,"fontWeight":"bold","color":"#1a1a1a","baseline":"middle"},"encoding":{"text":{"field":"t"}}},
{"width":160,"height":14,"view":{"fill":"#ececec","stroke":"#a6a6a6"},"data":{"values":[{"t":"CPRG"}]},"mark":{"type":"text","fontSize":8.5,"fontWeight":"bold","color":"#1a1a1a","baseline":"middle"},"encoding":{"text":{"field":"t"}}}
],"spacing":5},
{"hconcat":[
{"width":191,"height":148,"view":{"stroke":"#8c8c8c","fill":"white"},"resolve":{"axis":{"x":"independent","y":"independent"}},"layer":[
{"data":{"name":"LB"},"transform":[{"filter":"datum.p == 'N3'"}],"resolve":{"axis":{"x":"independent","y":"independent"}},"layer":[
{"mark":{"type":"rule","color":"#7f7f7f"},"encoding":{"x":{"datum":-0.5,"type":"quantitative","scale":{"domain":[-1.608,5.07],"nice":false,"zero":false},"axis":null},"y":{"datum":0,"type":"quantitative","scale":{"domain":[-123.1,635.9],"nice":false,"zero":false},"axis":null},"y2":{"datum":600}}},
{"mark":{"type":"rule","color":"#7f7f7f"},"encoding":{"x":{"datum":-0.5,"type":"quantitative","scale":{"domain":[-1.608,5.07],"nice":false,"zero":false},"axis":null},"x2":{"datum":4.5},"y":{"datum":0,"type":"quantitative","scale":{"domain":[-123.1,635.9],"nice":false,"zero":false},"axis":null}}}]},
{"data":{"name":"L"},"transform":[{"filter":"datum.p == 'ctl' || datum.p == 'N3'"},{"calculate":"datum.v - datum.e","as":"lo"},{"calculate":"datum.v + datum.e","as":"hi"}],"resolve":{"axis":{"x":"independent","y":"independent"}},"layer":[
{"mark":{"type":"line","strokeWidth":1.5},"encoding":{"x":{"field":"t","type":"quantitative","scale":{"domain":[-1.608,5.07],"nice":false,"zero":false},"axis":{"values":[0,1,2,3,4],"offset":-24,"ticks":false,"tickSize":0,"labelPadding":4,"labelFontSize":7,"labelOverlap":false,"title":"Induction time (hours)","titleFontSize":8.5,"titlePadding":2}},"y":{"field":"v","type":"quantitative","scale":{"domain":[-123.1,635.9],"nice":false,"zero":false},"axis":{"values":[0,100,200,300,400,500,600],"offset":-32,"tickSize":3,"labelPadding":1.5,"labelFontSize":7,"labelOverlap":false,"labelSeparation":-50,"title":"β-galactosidase activity (unit)","titleFontSize":8,"titlePadding":1}},"color":{"field":"s","type":"nominal","scale":{"domain":["pLacZ + pTAC","pLacZ + pTAC-N3","pLacZ-MHV-PS97 + pTAC","pLacZ-MHV-PS97 + pTAC-N3"],"range":["#7b40a8","#4a7bcc","#9bbb59","#b9423f"]}}}},
{"mark":{"type":"point","filled":true,"size":24,"opacity":1},"encoding":{"x":{"field":"t","type":"quantitative","scale":{"domain":[-1.608,5.07],"nice":false,"zero":false},"axis":null},"y":{"field":"v","type":"quantitative","scale":{"domain":[-123.1,635.9],"nice":false,"zero":false},"axis":null},"color":{"field":"s","type":"nominal","scale":{"domain":["pLacZ + pTAC","pLacZ + pTAC-N3","pLacZ-MHV-PS97 + pTAC","pLacZ-MHV-PS97 + pTAC-N3"],"range":["#7b40a8","#4a7bcc","#9bbb59","#b9423f"]},"legend":{"orient":"none","legendX":40,"legendY":3,"title":null,"padding":0,"rowPadding":0.8,"labelFontSize":6,"labelFontWeight":"bold","labelLimit":250,"labelOffset":7,"symbolSize":24}},"shape":{"field":"s","type":"nominal","scale":{"domain":["pLacZ + pTAC","pLacZ + pTAC-N3","pLacZ-MHV-PS97 + pTAC","pLacZ-MHV-PS97 + pTAC-N3"],"range":["circle","diamond","triangle-up","square"]},"legend":{"orient":"none","legendX":40,"legendY":3,"title":null,"padding":0,"rowPadding":0.8,"labelFontSize":6,"labelFontWeight":"bold","labelLimit":250,"labelOffset":7,"symbolSize":24}}}},
{"transform":[{"filter":"datum.e > 0"}],"mark":{"type":"rule","color":"#1a1a1a","strokeWidth":1},"encoding":{"x":{"field":"t","type":"quantitative","scale":{"domain":[-1.608,5.07],"nice":false,"zero":false},"axis":null},"y":{"field":"lo","type":"quantitative","scale":{"domain":[-123.1,635.9],"nice":false,"zero":false},"axis":null},"y2":{"field":"hi"}}},
{"transform":[{"filter":"datum.e > 0"}],"mark":{"type":"tick","color":"#1a1a1a","thickness":1,"size":4,"orient":"horizontal"},"encoding":{"x":{"field":"t","type":"quantitative","scale":{"domain":[-1.608,5.07],"nice":false,"zero":false},"axis":null},"y":{"field":"hi","type":"quantitative","scale":{"domain":[-123.1,635.9],"nice":false,"zero":false},"axis":null}}},
{"transform":[{"filter":"datum.e > 0"}],"mark":{"type":"tick","color":"#1a1a1a","thickness":1,"size":4,"orient":"horizontal"},"encoding":{"x":{"field":"t","type":"quantitative","scale":{"domain":[-1.608,5.07],"nice":false,"zero":false},"axis":null},"y":{"field":"lo","type":"quantitative","scale":{"domain":[-123.1,635.9],"nice":false,"zero":false},"axis":null}}}]},
{"data":{"name":"LB"},"transform":[{"filter":"datum.p == 'N3'"},{"calculate":"(datum.top + datum.bot) / 2","as":"mid"}],"resolve":{"axis":{"x":"independent","y":"independent"}},"layer":[
{"mark":{"type":"rule","color":"#1a1a1a","strokeWidth":1.3},"encoding":{"x":{"datum":4.2,"type":"quantitative","scale":{"domain":[-1.608,5.07],"nice":false,"zero":false},"axis":null},"y":{"field":"top","type":"quantitative","scale":{"domain":[-123.1,635.9],"nice":false,"zero":false},"axis":null},"y2":{"field":"bot"}}},
{"mark":{"type":"point","filled":true,"size":12,"opacity":1,"color":"#1a1a1a"},"encoding":{"x":{"datum":4.2,"type":"quantitative","scale":{"domain":[-1.608,5.07],"nice":false,"zero":false},"axis":null},"y":{"field":"top","type":"quantitative","scale":{"domain":[-123.1,635.9],"nice":false,"zero":false},"axis":null}}},
{"mark":{"type":"point","filled":true,"size":12,"opacity":1,"color":"#1a1a1a"},"encoding":{"x":{"datum":4.2,"type":"quantitative","scale":{"domain":[-1.608,5.07],"nice":false,"zero":false},"axis":null},"y":{"field":"bot","type":"quantitative","scale":{"domain":[-123.1,635.9],"nice":false,"zero":false},"axis":null}}},
{"mark":{"type":"text","align":"left","baseline":"middle","fontSize":10,"fontWeight":"bold","color":"#1a1a1a"},"encoding":{"x":{"datum":4.36,"type":"quantitative","scale":{"domain":[-1.608,5.07],"nice":false,"zero":false},"axis":null},"y":{"field":"mid","type":"quantitative","scale":{"domain":[-123.1,635.9],"nice":false,"zero":false},"axis":null},"text":{"field":"lab"}}}]}
]},
{"width":160,"height":148,"view":{"stroke":"#8c8c8c","fill":"white"},"resolve":{"scale":{"x":"independent"},"axis":{"x":"independent","y":"independent"}},"layer":[
{"data":{"name":"GR"},"resolve":{"axis":{"x":"independent","y":"independent"}},"layer":[
{"transform":[{"filter":"datum.g > 0"}],"mark":{"type":"rule","color":"#d9d9d9"},"encoding":{"x":{"datum":0,"type":"quantitative","scale":{"domain":[-0.2,1.0308],"nice":false,"zero":false},"axis":null},"x2":{"datum":1},"y":{"field":"g","type":"quantitative","scale":{"domain":[-0.2589,1.0625],"nice":false,"zero":false},"axis":null}}},
{"transform":[{"filter":"datum.g == 0"}],"mark":{"type":"rule","color":"#8c8c8c"},"encoding":{"x":{"datum":0,"type":"quantitative","scale":{"domain":[-0.2,1.0308],"nice":false,"zero":false},"axis":null},"x2":{"datum":1},"y":{"field":"g","type":"quantitative","scale":{"domain":[-0.2589,1.0625],"nice":false,"zero":false},"axis":null}}},
{"transform":[{"filter":"datum.g == 1"}],"mark":{"type":"rule","color":"#8c8c8c"},"encoding":{"x":{"datum":0,"type":"quantitative","scale":{"domain":[-0.2,1.0308],"nice":false,"zero":false},"axis":null},"y":{"datum":0,"type":"quantitative","scale":{"domain":[-0.2589,1.0625],"nice":false,"zero":false},"axis":null},"y2":{"datum":1}}}]},
{"resolve":{"axis":{"x":"independent","y":"independent"}},"layer":[
{"data":{"name":"BR"},"transform":[{"filter":"datum.p == 'ctl' || datum.p == 'N3'"}],"resolve":{"axis":{"x":"independent","y":"independent"}},"layer":[
{"mark":{"type":"bar"},"encoding":{"x":{"field":"g","type":"nominal","scale":{"domain":["pLacZ + pTAC-N3","MHV-PS + pTAC-N3","MHV-PS + pTAC","pLacZ + pTAC"],"paddingInner":0.6,"paddingOuter":0.923,"align":0.744},"axis":{"offset":-29,"ticks":false,"tickSize":0,"labelAngle":0,"labelOverlap":false,"labelExpr":"split(datum.label, ' ')","labelFontSize":6.3,"labelLineHeight":7,"labelPadding":3,"labelBaseline":"top","title":null}},"y":{"field":"v","type":"quantitative","scale":{"domain":[-0.2589,1.0625],"nice":false,"zero":false},"axis":{"values":[0,0.1,0.2,0.3,0.4,0.5,0.6,0.7,0.8,0.9,1],"format":"~g","offset":-26,"tickSize":2,"labelPadding":1.5,"labelFontSize":6.3,"labelOverlap":false,"labelSeparation":-50,"title":"β-galactosidase (OD575 nm)","titleFontSize":7.2,"titlePadding":1.5}},"y2":{"datum":0},"color":{"field":"g","type":"nominal","scale":{"domain":["pLacZ + pTAC-N3","MHV-PS + pTAC-N3","MHV-PS + pTAC","pLacZ + pTAC"],"range":["#4f6db8","#a3403d","#6e8c33","#5c2291"]},"legend":null}}},
{"mark":{"type":"rule","color":"#1a1a1a"},"encoding":{"x":{"field":"g","type":"nominal","scale":{"domain":["pLacZ + pTAC-N3","MHV-PS + pTAC-N3","MHV-PS + pTAC","pLacZ + pTAC"],"paddingInner":0.6,"paddingOuter":0.923,"align":0.744},"axis":null},"y":{"field":"v","type":"quantitative","scale":{"domain":[-0.2589,1.0625],"nice":false,"zero":false},"axis":null},"y2":{"field":"hi"}}},
{"mark":{"type":"tick","color":"#1a1a1a","thickness":1,"size":5,"orient":"horizontal"},"encoding":{"x":{"field":"g","type":"nominal","scale":{"domain":["pLacZ + pTAC-N3","MHV-PS + pTAC-N3","MHV-PS + pTAC","pLacZ + pTAC"],"paddingInner":0.6,"paddingOuter":0.923,"align":0.744},"axis":null},"y":{"field":"hi","type":"quantitative","scale":{"domain":[-0.2589,1.0625],"nice":false,"zero":false},"axis":null}}}]},
{"data":{"name":"BB"},"transform":[{"filter":"datum.p == 'N3'"}],"resolve":{"axis":{"x":"independent","y":"independent"}},"layer":[
{"mark":{"type":"line","color":"#1a1a1a","strokeWidth":1.3},"encoding":{"x":{"field":"g","type":"nominal","scale":{"domain":["pLacZ + pTAC-N3","MHV-PS + pTAC-N3","MHV-PS + pTAC","pLacZ + pTAC"],"paddingInner":0.6,"paddingOuter":0.923,"align":0.744},"axis":null},"y":{"field":"y","type":"quantitative","scale":{"domain":[-0.2589,1.0625],"nice":false,"zero":false},"axis":null}}},
{"mark":{"type":"point","filled":true,"size":12,"opacity":1,"color":"#1a1a1a"},"encoding":{"x":{"field":"g","type":"nominal","scale":{"domain":["pLacZ + pTAC-N3","MHV-PS + pTAC-N3","MHV-PS + pTAC","pLacZ + pTAC"],"paddingInner":0.6,"paddingOuter":0.923,"align":0.744},"axis":null},"y":{"field":"y","type":"quantitative","scale":{"domain":[-0.2589,1.0625],"nice":false,"zero":false},"axis":null}}},
{"transform":[{"filter":"datum.lab != ''"}],"mark":{"type":"text","fontSize":10,"fontWeight":"bold","dx":15,"dy":-7,"baseline":"middle","color":"#1a1a1a"},"encoding":{"x":{"field":"g","type":"nominal","scale":{"domain":["pLacZ + pTAC-N3","MHV-PS + pTAC-N3","MHV-PS + pTAC","pLacZ + pTAC"],"paddingInner":0.6,"paddingOuter":0.923,"align":0.744},"axis":null},"y":{"field":"y","type":"quantitative","scale":{"domain":[-0.2589,1.0625],"nice":false,"zero":false},"axis":null},"text":{"field":"lab"}}}]}
]}
]}
],"spacing":5,"resolve":{"scale":{"color":"independent","shape":"independent"},"legend":{"color":"independent","shape":"independent"}}}
],"spacing":3,"resolve":{"scale":{"color":"independent","shape":"independent"},"legend":{"color":"independent","shape":"independent"}}}
],"spacing":5.5,"resolve":{"scale":{"color":"independent","shape":"independent"},"legend":{"color":"independent","shape":"independent"}}},
{"hconcat":[
{"width":18,"height":17,"data":{"values":[{"t":"H"}]},"mark":{"type":"text","fontSize":17,"fontWeight":"bold","color":"#111111","baseline":"middle"},"encoding":{"text":{"field":"t"}}},
{"vconcat":[
{"width":358,"height":14,"view":{"fill":"#ececec","stroke":"#a6a6a6"},"data":{"values":[{"t":"N7(249-365)"}]},"mark":{"type":"text","fontSize":10.5,"fontWeight":"bold","color":"#1a1a1a","baseline":"middle"},"encoding":{"text":{"field":"t"}}},
{"hconcat":[
{"width":193,"height":14,"view":{"fill":"#ececec","stroke":"#a6a6a6"},"data":{"values":[{"t":"ONPG"}]},"mark":{"type":"text","fontSize":8.5,"fontWeight":"bold","color":"#1a1a1a","baseline":"middle"},"encoding":{"text":{"field":"t"}}},
{"width":161,"height":14,"view":{"fill":"#ececec","stroke":"#a6a6a6"},"data":{"values":[{"t":"CPRG"}]},"mark":{"type":"text","fontSize":8.5,"fontWeight":"bold","color":"#1a1a1a","baseline":"middle"},"encoding":{"text":{"field":"t"}}}
],"spacing":3},
{"hconcat":[
{"width":193,"height":148,"view":{"stroke":"#8c8c8c","fill":"white"},"resolve":{"axis":{"x":"independent","y":"independent"}},"layer":[
{"data":{"name":"LB"},"transform":[{"filter":"datum.p == 'N7'"}],"resolve":{"axis":{"x":"independent","y":"independent"}},"layer":[
{"mark":{"type":"rule","color":"#7f7f7f"},"encoding":{"x":{"datum":-0.5,"type":"quantitative","scale":{"domain":[-1.608,5.14],"nice":false,"zero":false},"axis":null},"y":{"datum":0,"type":"quantitative","scale":{"domain":[-123.1,635.9],"nice":false,"zero":false},"axis":null},"y2":{"datum":600}}},
{"mark":{"type":"rule","color":"#7f7f7f"},"encoding":{"x":{"datum":-0.5,"type":"quantitative","scale":{"domain":[-1.608,5.14],"nice":false,"zero":false},"axis":null},"x2":{"datum":4.5},"y":{"datum":0,"type":"quantitative","scale":{"domain":[-123.1,635.9],"nice":false,"zero":false},"axis":null}}}]},
{"data":{"name":"L"},"transform":[{"filter":"datum.p == 'ctl' || datum.p == 'N7'"},{"calculate":"datum.v - datum.e","as":"lo"},{"calculate":"datum.v + datum.e","as":"hi"}],"resolve":{"axis":{"x":"independent","y":"independent"}},"layer":[
{"mark":{"type":"line","strokeWidth":1.5},"encoding":{"x":{"field":"t","type":"quantitative","scale":{"domain":[-1.608,5.14],"nice":false,"zero":false},"axis":{"values":[0,1,2,3,4],"offset":-24,"ticks":false,"tickSize":0,"labelPadding":4,"labelFontSize":7,"labelOverlap":false,"title":"Induction time (hour)","titleFontSize":8.5,"titlePadding":2}},"y":{"field":"v","type":"quantitative","scale":{"domain":[-123.1,635.9],"nice":false,"zero":false},"axis":{"values":[0,100,200,300,400,500,600],"offset":-32,"tickSize":3,"labelPadding":1.5,"labelFontSize":7,"labelOverlap":false,"labelSeparation":-50,"title":"β-galactosidase activity (unit)","titleFontSize":8,"titlePadding":1}},"color":{"field":"s","type":"nominal","scale":{"domain":["pLacZ + pTAC","pLacZ + pTAC-N7","pLacZ-MHV-PS97 + pTAC","pLacZ-MHV-PS97 + pTAC-N7"],"range":["#7b40a8","#4a7bcc","#9bbb59","#b9423f"]}}}},
{"mark":{"type":"point","filled":true,"size":24,"opacity":1},"encoding":{"x":{"field":"t","type":"quantitative","scale":{"domain":[-1.608,5.14],"nice":false,"zero":false},"axis":null},"y":{"field":"v","type":"quantitative","scale":{"domain":[-123.1,635.9],"nice":false,"zero":false},"axis":null},"color":{"field":"s","type":"nominal","scale":{"domain":["pLacZ + pTAC","pLacZ + pTAC-N7","pLacZ-MHV-PS97 + pTAC","pLacZ-MHV-PS97 + pTAC-N7"],"range":["#7b40a8","#4a7bcc","#9bbb59","#b9423f"]},"legend":{"orient":"none","legendX":40,"legendY":3,"title":null,"padding":0,"rowPadding":0.8,"labelFontSize":6,"labelFontWeight":"bold","labelLimit":250,"labelOffset":7,"symbolSize":24}},"shape":{"field":"s","type":"nominal","scale":{"domain":["pLacZ + pTAC","pLacZ + pTAC-N7","pLacZ-MHV-PS97 + pTAC","pLacZ-MHV-PS97 + pTAC-N7"],"range":["circle","diamond","triangle-up","square"]},"legend":{"orient":"none","legendX":40,"legendY":3,"title":null,"padding":0,"rowPadding":0.8,"labelFontSize":6,"labelFontWeight":"bold","labelLimit":250,"labelOffset":7,"symbolSize":24}}}},
{"transform":[{"filter":"datum.e > 0"}],"mark":{"type":"rule","color":"#1a1a1a","strokeWidth":1},"encoding":{"x":{"field":"t","type":"quantitative","scale":{"domain":[-1.608,5.14],"nice":false,"zero":false},"axis":null},"y":{"field":"lo","type":"quantitative","scale":{"domain":[-123.1,635.9],"nice":false,"zero":false},"axis":null},"y2":{"field":"hi"}}},
{"transform":[{"filter":"datum.e > 0"}],"mark":{"type":"tick","color":"#1a1a1a","thickness":1,"size":4,"orient":"horizontal"},"encoding":{"x":{"field":"t","type":"quantitative","scale":{"domain":[-1.608,5.14],"nice":false,"zero":false},"axis":null},"y":{"field":"hi","type":"quantitative","scale":{"domain":[-123.1,635.9],"nice":false,"zero":false},"axis":null}}},
{"transform":[{"filter":"datum.e > 0"}],"mark":{"type":"tick","color":"#1a1a1a","thickness":1,"size":4,"orient":"horizontal"},"encoding":{"x":{"field":"t","type":"quantitative","scale":{"domain":[-1.608,5.14],"nice":false,"zero":false},"axis":null},"y":{"field":"lo","type":"quantitative","scale":{"domain":[-123.1,635.9],"nice":false,"zero":false},"axis":null}}}]},
{"data":{"name":"LB"},"transform":[{"filter":"datum.p == 'N7'"},{"calculate":"(datum.top + datum.bot) / 2","as":"mid"}],"resolve":{"axis":{"x":"independent","y":"independent"}},"layer":[
{"mark":{"type":"rule","color":"#1a1a1a","strokeWidth":1.3},"encoding":{"x":{"datum":4.2,"type":"quantitative","scale":{"domain":[-1.608,5.14],"nice":false,"zero":false},"axis":null},"y":{"field":"top","type":"quantitative","scale":{"domain":[-123.1,635.9],"nice":false,"zero":false},"axis":null},"y2":{"field":"bot"}}},
{"mark":{"type":"point","filled":true,"size":12,"opacity":1,"color":"#1a1a1a"},"encoding":{"x":{"datum":4.2,"type":"quantitative","scale":{"domain":[-1.608,5.14],"nice":false,"zero":false},"axis":null},"y":{"field":"top","type":"quantitative","scale":{"domain":[-123.1,635.9],"nice":false,"zero":false},"axis":null}}},
{"mark":{"type":"point","filled":true,"size":12,"opacity":1,"color":"#1a1a1a"},"encoding":{"x":{"datum":4.2,"type":"quantitative","scale":{"domain":[-1.608,5.14],"nice":false,"zero":false},"axis":null},"y":{"field":"bot","type":"quantitative","scale":{"domain":[-123.1,635.9],"nice":false,"zero":false},"axis":null}}},
{"mark":{"type":"text","align":"left","baseline":"middle","fontSize":10,"fontWeight":"bold","color":"#1a1a1a"},"encoding":{"x":{"datum":4.36,"type":"quantitative","scale":{"domain":[-1.608,5.14],"nice":false,"zero":false},"axis":null},"y":{"field":"mid","type":"quantitative","scale":{"domain":[-123.1,635.9],"nice":false,"zero":false},"axis":null},"text":{"field":"lab"}}}]}
]},
{"width":161,"height":148,"view":{"stroke":"#8c8c8c","fill":"white"},"resolve":{"scale":{"x":"independent"},"axis":{"x":"independent","y":"independent"}},"layer":[
{"data":{"name":"GR"},"resolve":{"axis":{"x":"independent","y":"independent"}},"layer":[
{"transform":[{"filter":"datum.g > 0"}],"mark":{"type":"rule","color":"#d9d9d9"},"encoding":{"x":{"datum":0,"type":"quantitative","scale":{"domain":[-0.2,1.0385],"nice":false,"zero":false},"axis":null},"x2":{"datum":1},"y":{"field":"g","type":"quantitative","scale":{"domain":[-0.2589,1.0625],"nice":false,"zero":false},"axis":null}}},
{"transform":[{"filter":"datum.g == 0"}],"mark":{"type":"rule","color":"#8c8c8c"},"encoding":{"x":{"datum":0,"type":"quantitative","scale":{"domain":[-0.2,1.0385],"nice":false,"zero":false},"axis":null},"x2":{"datum":1},"y":{"field":"g","type":"quantitative","scale":{"domain":[-0.2589,1.0625],"nice":false,"zero":false},"axis":null}}},
{"transform":[{"filter":"datum.g == 1"}],"mark":{"type":"rule","color":"#8c8c8c"},"encoding":{"x":{"datum":0,"type":"quantitative","scale":{"domain":[-0.2,1.0385],"nice":false,"zero":false},"axis":null},"y":{"datum":0,"type":"quantitative","scale":{"domain":[-0.2589,1.0625],"nice":false,"zero":false},"axis":null},"y2":{"datum":1}}}]},
{"resolve":{"axis":{"x":"independent","y":"independent"}},"layer":[
{"data":{"name":"BR"},"transform":[{"filter":"datum.p == 'ctl' || datum.p == 'N7'"}],"resolve":{"axis":{"x":"independent","y":"independent"}},"layer":[
{"mark":{"type":"bar"},"encoding":{"x":{"field":"g","type":"nominal","scale":{"domain":["pLacZ + pTAC-N7","MHV-PS + pTAC-N7","MHV-PS + pTAC","pLacZ + pTAC"],"paddingInner":0.6,"paddingOuter":0.939,"align":0.74},"axis":{"offset":-29,"ticks":false,"tickSize":0,"labelAngle":0,"labelOverlap":false,"labelExpr":"split(datum.label, ' ')","labelFontSize":6.3,"labelLineHeight":7,"labelPadding":3,"labelBaseline":"top","title":null}},"y":{"field":"v","type":"quantitative","scale":{"domain":[-0.2589,1.0625],"nice":false,"zero":false},"axis":{"values":[0,0.1,0.2,0.3,0.4,0.5,0.6,0.7,0.8,0.9,1],"format":"~g","offset":-26,"tickSize":2,"labelPadding":1.5,"labelFontSize":6.3,"labelOverlap":false,"labelSeparation":-50,"title":"β-galactosidase (OD575 nm)","titleFontSize":7.2,"titlePadding":1.5}},"y2":{"datum":0},"color":{"field":"g","type":"nominal","scale":{"domain":["pLacZ + pTAC-N7","MHV-PS + pTAC-N7","MHV-PS + pTAC","pLacZ + pTAC"],"range":["#4f6db8","#a3403d","#6e8c33","#5c2291"]},"legend":null}}},
{"mark":{"type":"rule","color":"#1a1a1a"},"encoding":{"x":{"field":"g","type":"nominal","scale":{"domain":["pLacZ + pTAC-N7","MHV-PS + pTAC-N7","MHV-PS + pTAC","pLacZ + pTAC"],"paddingInner":0.6,"paddingOuter":0.939,"align":0.74},"axis":null},"y":{"field":"v","type":"quantitative","scale":{"domain":[-0.2589,1.0625],"nice":false,"zero":false},"axis":null},"y2":{"field":"hi"}}},
{"mark":{"type":"tick","color":"#1a1a1a","thickness":1,"size":5,"orient":"horizontal"},"encoding":{"x":{"field":"g","type":"nominal","scale":{"domain":["pLacZ + pTAC-N7","MHV-PS + pTAC-N7","MHV-PS + pTAC","pLacZ + pTAC"],"paddingInner":0.6,"paddingOuter":0.939,"align":0.74},"axis":null},"y":{"field":"hi","type":"quantitative","scale":{"domain":[-0.2589,1.0625],"nice":false,"zero":false},"axis":null}}}]},
{"data":{"name":"BB"},"transform":[{"filter":"datum.p == 'N7'"}],"resolve":{"axis":{"x":"independent","y":"independent"}},"layer":[
{"mark":{"type":"line","color":"#1a1a1a","strokeWidth":1.3},"encoding":{"x":{"field":"g","type":"nominal","scale":{"domain":["pLacZ + pTAC-N7","MHV-PS + pTAC-N7","MHV-PS + pTAC","pLacZ + pTAC"],"paddingInner":0.6,"paddingOuter":0.939,"align":0.74},"axis":null},"y":{"field":"y","type":"quantitative","scale":{"domain":[-0.2589,1.0625],"nice":false,"zero":false},"axis":null}}},
{"mark":{"type":"point","filled":true,"size":12,"opacity":1,"color":"#1a1a1a"},"encoding":{"x":{"field":"g","type":"nominal","scale":{"domain":["pLacZ + pTAC-N7","MHV-PS + pTAC-N7","MHV-PS + pTAC","pLacZ + pTAC"],"paddingInner":0.6,"paddingOuter":0.939,"align":0.74},"axis":null},"y":{"field":"y","type":"quantitative","scale":{"domain":[-0.2589,1.0625],"nice":false,"zero":false},"axis":null}}},
{"transform":[{"filter":"datum.lab != ''"}],"mark":{"type":"text","fontSize":10,"fontWeight":"bold","dx":15,"dy":-7,"baseline":"middle","color":"#1a1a1a"},"encoding":{"x":{"field":"g","type":"nominal","scale":{"domain":["pLacZ + pTAC-N7","MHV-PS + pTAC-N7","MHV-PS + pTAC","pLacZ + pTAC"],"paddingInner":0.6,"paddingOuter":0.939,"align":0.74},"axis":null},"y":{"field":"y","type":"quantitative","scale":{"domain":[-0.2589,1.0625],"nice":false,"zero":false},"axis":null},"text":{"field":"lab"}}}]}
]}
]}
],"spacing":3,"resolve":{"scale":{"color":"independent","shape":"independent"},"legend":{"color":"independent","shape":"independent"}}}
],"spacing":3,"resolve":{"scale":{"color":"independent","shape":"independent"},"legend":{"color":"independent","shape":"independent"}}}
],"spacing":5.5,"resolve":{"scale":{"color":"independent","shape":"independent"},"legend":{"color":"independent","shape":"independent"}}}
],"spacing":14.5,"resolve":{"scale":{"color":"independent","shape":"independent"},"legend":{"color":"independent","shape":"independent"}}}
]
}
